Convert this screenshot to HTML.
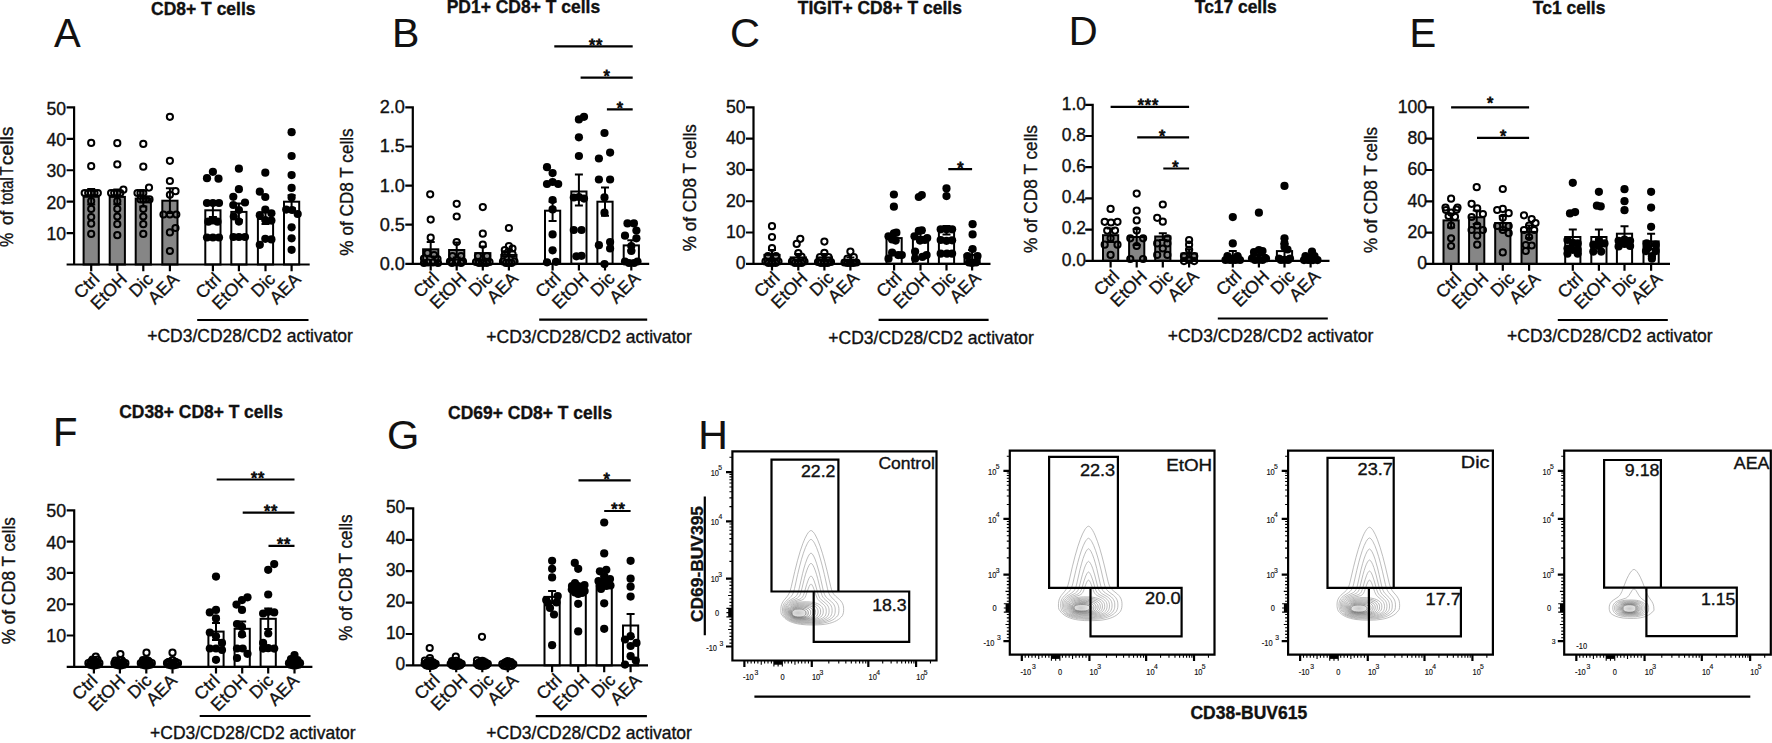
<!DOCTYPE html>
<html><head><meta charset="utf-8"><title>Figure</title>
<style>
html,body{margin:0;padding:0;background:#fff;}
body{width:1772px;height:743px;overflow:hidden;}
svg{display:block;}
text{font-family:"Liberation Sans",Arial,Helvetica,sans-serif;font-size:17.5px;fill:#111;stroke:#111;stroke-width:0.35px;}
text.st{stroke-width:0.95px;letter-spacing:0.8px;}
text.L{stroke-width:0.1px;}
text.s{font-size:7.4px;stroke-width:0.15px;}
circle{fill:#000;}
circle.o{fill:none;stroke:#000;stroke-width:2;}
</style></head><body>
<svg width="1772" height="743" viewBox="0 0 1772 743">
<defs><radialGradient id="cg"><stop offset="0" stop-color="#c8c8c8"/><stop offset="0.5" stop-color="#c8c8c8" stop-opacity="0.6"/><stop offset="1" stop-color="#d0d0d0" stop-opacity="0"/></radialGradient></defs>
<rect width="1772" height="743" fill="#fff"/>
<text transform="translate(151.08,14.67) scale(1,1.005)" style="font-size:17.5px" font-weight="bold" textLength="104.45" lengthAdjust="spacingAndGlyphs">CD8+ T cells</text>
<text transform="translate(54.1,46.6)" style="font-size:40px" class="L">A</text>
<text transform="translate(13.3,246.9) rotate(-90)" style="font-size:18px" textLength="14.3" lengthAdjust="spacingAndGlyphs">%</text>
<text transform="translate(13.3,225) rotate(-90)" style="font-size:18px" textLength="14.4" lengthAdjust="spacingAndGlyphs">of</text>
<text transform="translate(13.3,204.8) rotate(-90)" style="font-size:18px" textLength="27.5" lengthAdjust="spacingAndGlyphs">total</text>
<text transform="translate(13.3,175.5) rotate(-90)" style="font-size:18px" textLength="9.2" lengthAdjust="spacingAndGlyphs">T</text>
<text transform="translate(13.3,165.3) rotate(-90)" style="font-size:18px" textLength="38.9" lengthAdjust="spacingAndGlyphs">cells</text>
<text transform="translate(66,240.28) scale(1,1.005)" style="font-size:17.6px" text-anchor="end">10</text>
<text transform="translate(66,208.86) scale(1,1.005)" style="font-size:17.6px" text-anchor="end">20</text>
<text transform="translate(66,177.44) scale(1,1.005)" style="font-size:17.6px" text-anchor="end">30</text>
<text transform="translate(66,146.02) scale(1,1.005)" style="font-size:17.6px" text-anchor="end">40</text>
<text transform="translate(66,114.6) scale(1,1.005)" style="font-size:17.6px" text-anchor="end">50</text>
<rect x="83.6" y="196.8" width="15.2" height="67.7" fill="#868686" stroke="#000" stroke-width="2"/>
<rect x="109.7" y="196.9" width="15.2" height="67.6" fill="#868686" stroke="#000" stroke-width="2"/>
<rect x="135.7" y="198.6" width="15.2" height="65.9" fill="#868686" stroke="#000" stroke-width="2"/>
<rect x="162.3" y="200.7" width="15.2" height="63.8" fill="#868686" stroke="#000" stroke-width="2"/>
<rect x="205.3" y="210.3" width="15.2" height="54.2" fill="#ffffff" stroke="#000" stroke-width="2"/>
<rect x="231.3" y="211.9" width="15.2" height="52.6" fill="#ffffff" stroke="#000" stroke-width="2"/>
<rect x="257.9" y="219" width="15.2" height="45.5" fill="#ffffff" stroke="#000" stroke-width="2"/>
<rect x="284" y="201.7" width="15.2" height="62.8" fill="#ffffff" stroke="#000" stroke-width="2"/>
<path d="M91.2 189V204.5M87.2 189H95.2M87.2 204.5H95.2M117.3 189.5V204.3M113.3 189.5H121.3M113.3 204.3H121.3M143.3 190.5V206.5M139.3 190.5H147.3M139.3 206.5H147.3M169.9 188.2V213M165.9 188.2H173.9M165.9 213H173.9M212.9 203.5V217M208.9 203.5H216.9M208.9 217H216.9M238.9 203.5V220M234.9 203.5H242.9M234.9 220H242.9M265.5 212V224M261.5 212H269.5M261.5 224H269.5M291.6 195.3V208M287.6 195.3H295.6M287.6 208H295.6" stroke="#000" stroke-width="2" fill="none"/>
<path d="M66.6 233.08H74.1M66.6 201.66H74.1M66.6 170.24H74.1M66.6 138.82H74.1M66.6 107.4H74.1M74.1 106.3V264.5M66.6 264.5H309.7M91.2 264.5V271.3M117.3 264.5V271.3M143.3 264.5V271.3M169.9 264.5V271.3M212.9 264.5V271.3M238.9 264.5V271.3M265.5 264.5V271.3M291.6 264.5V271.3M197.2 320H308.5" stroke="#000" stroke-width="2.2" fill="none"/>
<circle cx="91.2" cy="142.9" r="3.1" class="o"/>
<circle cx="91.2" cy="166.2" r="3.1" class="o"/>
<circle cx="84.7" cy="193" r="3.1" class="o"/>
<circle cx="88.2" cy="193" r="3.1" class="o"/>
<circle cx="91.2" cy="193" r="3.1" class="o"/>
<circle cx="94.5" cy="193" r="3.1" class="o"/>
<circle cx="97.8" cy="193" r="3.1" class="o"/>
<circle cx="91.2" cy="201.2" r="3.1" class="o"/>
<circle cx="91.2" cy="208.9" r="3.1" class="o"/>
<circle cx="91.2" cy="217" r="3.1" class="o"/>
<circle cx="91.2" cy="223.7" r="3.1" class="o"/>
<circle cx="91.2" cy="233.9" r="3.1" class="o"/>
<circle cx="117.3" cy="143.2" r="3.1" class="o"/>
<circle cx="117.3" cy="164.4" r="3.1" class="o"/>
<circle cx="123.4" cy="189.7" r="3.1" class="o"/>
<circle cx="111.1" cy="193" r="3.1" class="o"/>
<circle cx="114.2" cy="193" r="3.1" class="o"/>
<circle cx="117.3" cy="193" r="3.1" class="o"/>
<circle cx="120.3" cy="193" r="3.1" class="o"/>
<circle cx="117.3" cy="201.2" r="3.1" class="o"/>
<circle cx="117.3" cy="208.9" r="3.1" class="o"/>
<circle cx="117.3" cy="216.5" r="3.1" class="o"/>
<circle cx="117.3" cy="224.2" r="3.1" class="o"/>
<circle cx="117.3" cy="235.2" r="3.1" class="o"/>
<circle cx="143.3" cy="143.9" r="3.1" class="o"/>
<circle cx="143.3" cy="166.7" r="3.1" class="o"/>
<circle cx="149" cy="187.6" r="3.1" class="o"/>
<circle cx="137.5" cy="193" r="3.1" class="o"/>
<circle cx="140.5" cy="193" r="3.1" class="o"/>
<circle cx="143.3" cy="193" r="3.1" class="o"/>
<circle cx="140.5" cy="199.4" r="3.1" class="o"/>
<circle cx="143.3" cy="199.4" r="3.1" class="o"/>
<circle cx="146.1" cy="199.4" r="3.1" class="o"/>
<circle cx="149.5" cy="199.4" r="3.1" class="o"/>
<circle cx="143.3" cy="208.9" r="3.1" class="o"/>
<circle cx="143.3" cy="216.5" r="3.1" class="o"/>
<circle cx="143.3" cy="224.2" r="3.1" class="o"/>
<circle cx="143.3" cy="233.9" r="3.1" class="o"/>
<circle cx="169.9" cy="116.8" r="3.1" class="o"/>
<circle cx="169.9" cy="160.8" r="3.1" class="o"/>
<circle cx="169.9" cy="181" r="3.1" class="o"/>
<circle cx="175.5" cy="191.2" r="3.1" class="o"/>
<circle cx="169.9" cy="194.8" r="3.1" class="o"/>
<circle cx="163.5" cy="214.5" r="3.1" class="o"/>
<circle cx="169.9" cy="214.5" r="3.1" class="o"/>
<circle cx="176.3" cy="214.5" r="3.1" class="o"/>
<circle cx="175.5" cy="228" r="3.1" class="o"/>
<circle cx="169.9" cy="232.4" r="3.1" class="o"/>
<circle cx="169.9" cy="251" r="3.1" class="o"/>
<circle cx="212.9" cy="171.8" r="4.1"/>
<circle cx="207" cy="178.2" r="4.1"/>
<circle cx="218.5" cy="178.7" r="4.1"/>
<circle cx="207" cy="203" r="4.1"/>
<circle cx="212.9" cy="203" r="4.1"/>
<circle cx="219" cy="203" r="4.1"/>
<circle cx="212.9" cy="220.4" r="4.1"/>
<circle cx="208.3" cy="221.7" r="4.1"/>
<circle cx="217.5" cy="221.7" r="4.1"/>
<circle cx="207" cy="237.5" r="4.1"/>
<circle cx="212.9" cy="237.5" r="4.1"/>
<circle cx="219" cy="237.5" r="4.1"/>
<circle cx="238.9" cy="168.7" r="4.1"/>
<circle cx="238.9" cy="189.2" r="4.1"/>
<circle cx="233.3" cy="196.8" r="4.1"/>
<circle cx="233.3" cy="205" r="4.1"/>
<circle cx="245" cy="202.5" r="4.1"/>
<circle cx="238.9" cy="210" r="4.1"/>
<circle cx="233.8" cy="216.5" r="4.1"/>
<circle cx="238.9" cy="221.6" r="4.1"/>
<circle cx="233.4" cy="237" r="4.1"/>
<circle cx="238.9" cy="237" r="4.1"/>
<circle cx="245" cy="237" r="4.1"/>
<circle cx="265.3" cy="172.7" r="4.1"/>
<circle cx="259.8" cy="191.7" r="4.1"/>
<circle cx="265.3" cy="197" r="4.1"/>
<circle cx="265.3" cy="209.7" r="4.1"/>
<circle cx="259.8" cy="215.2" r="4.1"/>
<circle cx="271.4" cy="213.3" r="4.1"/>
<circle cx="265.3" cy="220" r="4.1"/>
<circle cx="271.4" cy="220.6" r="4.1"/>
<circle cx="265.3" cy="238.8" r="4.1"/>
<circle cx="271.4" cy="239.4" r="4.1"/>
<circle cx="259.8" cy="244.8" r="4.1"/>
<circle cx="291.6" cy="132.2" r="4.1"/>
<circle cx="291.6" cy="156" r="4.1"/>
<circle cx="291.6" cy="175.1" r="4.1"/>
<circle cx="291.6" cy="187.9" r="4.1"/>
<circle cx="291.6" cy="197.4" r="4.1"/>
<circle cx="286.2" cy="209.6" r="4.1"/>
<circle cx="292.1" cy="210" r="4.1"/>
<circle cx="297.7" cy="214" r="4.1"/>
<circle cx="291.6" cy="227.3" r="4.1"/>
<circle cx="291.6" cy="238.3" r="4.1"/>
<circle cx="291.6" cy="249.8" r="4.1"/>
<text transform="translate(100.4,280.3) scale(1,1.005) rotate(-45)" style="font-size:17.6px" text-anchor="end">Ctrl</text>
<text transform="translate(128.1,280.3) scale(1,1.005) rotate(-45)" style="font-size:17.6px" text-anchor="end">EtOH</text>
<text transform="translate(154.1,280.3) scale(1,1.005) rotate(-45)" style="font-size:17.6px" text-anchor="end">Dic</text>
<text transform="translate(180,280.3) scale(1,1.005) rotate(-45)" style="font-size:17.6px" text-anchor="end">AEA</text>
<text transform="translate(222.1,280.3) scale(1,1.005) rotate(-45)" style="font-size:17.6px" text-anchor="end">Ctrl</text>
<text transform="translate(249.7,280.3) scale(1,1.005) rotate(-45)" style="font-size:17.6px" text-anchor="end">EtOH</text>
<text transform="translate(276.3,280.3) scale(1,1.005) rotate(-45)" style="font-size:17.6px" text-anchor="end">Dic</text>
<text transform="translate(301.7,280.3) scale(1,1.005) rotate(-45)" style="font-size:17.6px" text-anchor="end">AEA</text>
<text transform="translate(147.19,341.6) scale(1,1.005)" style="font-size:17.5px" textLength="205.63" lengthAdjust="spacingAndGlyphs">+CD3/CD28/CD2 activator</text>
<text transform="translate(446.63,13.05) scale(1,1.005)" style="font-size:17.5px" font-weight="bold" textLength="153.51" lengthAdjust="spacingAndGlyphs">PD1+ CD8+ T cells</text>
<text transform="translate(392.1,46.7)" style="font-size:41px" class="L">B</text>
<text transform="translate(352.6,192) rotate(-90)" style="font-size:18.3px" text-anchor="middle" textLength="127.3" lengthAdjust="spacingAndGlyphs">% of CD8 T cells</text>
<text transform="translate(404.98,269.7) scale(1,1.005)" style="font-size:18.2px" text-anchor="end">0.0</text>
<text transform="translate(404.98,230.6) scale(1,1.005)" style="font-size:18.2px" text-anchor="end">0.5</text>
<text transform="translate(404.98,191.5) scale(1,1.005)" style="font-size:18.2px" text-anchor="end">1.0</text>
<text transform="translate(404.98,152.4) scale(1,1.005)" style="font-size:18.2px" text-anchor="end">1.5</text>
<text transform="translate(404.98,113.3) scale(1,1.005)" style="font-size:18.2px" text-anchor="end">2.0</text>
<rect x="423.1" y="249.3" width="15.2" height="14.5" fill="#868686" stroke="#000" stroke-width="2"/>
<rect x="449.1" y="250" width="15.2" height="13.8" fill="#868686" stroke="#000" stroke-width="2"/>
<rect x="475.2" y="253.1" width="15.2" height="10.7" fill="#868686" stroke="#000" stroke-width="2"/>
<rect x="501.3" y="254.9" width="15.2" height="8.9" fill="#868686" stroke="#000" stroke-width="2"/>
<rect x="545" y="210.7" width="15.2" height="53.1" fill="#ffffff" stroke="#000" stroke-width="2"/>
<rect x="571.3" y="191.5" width="15.2" height="72.3" fill="#ffffff" stroke="#000" stroke-width="2"/>
<rect x="597.4" y="201.7" width="15.2" height="62.1" fill="#ffffff" stroke="#000" stroke-width="2"/>
<rect x="623.7" y="245.4" width="15.2" height="18.4" fill="#ffffff" stroke="#000" stroke-width="2"/>
<path d="M430.7 242.1V256.5M426.7 242.1H434.7M426.7 256.5H434.7M456.7 242.5V257.5M452.7 242.5H460.7M452.7 257.5H460.7M482.8 246.5V259.5M478.8 246.5H486.8M478.8 259.5H486.8M508.9 249.5V260M504.9 249.5H512.9M504.9 260H512.9M552.6 201.7V220.9M548.6 201.7H556.6M548.6 220.9H556.6M578.9 174.4V205.5M574.9 174.4H582.9M574.9 205.5H582.9M605 187.6V215.8M601 187.6H609M601 215.8H609M631.3 240.3V250.5M627.3 240.3H635.3M627.3 250.5H635.3" stroke="#000" stroke-width="2" fill="none"/>
<path d="M405.3 263.8H412.8M405.3 224.7H412.8M405.3 185.6H412.8M405.3 146.5H412.8M405.3 107.4H412.8M412.8 106.3V263.8M405.3 263.8H649.2M430.7 263.8V270.6M456.7 263.8V270.6M482.8 263.8V270.6M508.9 263.8V270.6M552.6 263.8V270.6M578.9 263.8V270.6M605 263.8V270.6M631.3 263.8V270.6M539.2 319.6H647.2M554.3 46.4H632.7M580.6 77.6H632.7M606.9 109.3H632.7" stroke="#000" stroke-width="2.2" fill="none"/>
<circle cx="430.2" cy="194.3" r="3.1" class="o"/>
<circle cx="430.7" cy="219.6" r="3.1" class="o"/>
<circle cx="430.7" cy="237.7" r="3.1" class="o"/>
<circle cx="427.5" cy="253" r="3.1" class="o"/>
<circle cx="434" cy="255" r="3.1" class="o"/>
<circle cx="424" cy="258.5" r="3.1" class="o"/>
<circle cx="437.5" cy="259" r="3.1" class="o"/>
<circle cx="428" cy="262.5" r="3.1" class="o"/>
<circle cx="433" cy="262.5" r="3.1" class="o"/>
<circle cx="424" cy="263" r="3.1" class="o"/>
<circle cx="438" cy="263" r="3.1" class="o"/>
<circle cx="456.7" cy="203.8" r="3.1" class="o"/>
<circle cx="456.7" cy="216.5" r="3.1" class="o"/>
<circle cx="456.7" cy="242.1" r="3.1" class="o"/>
<circle cx="452.5" cy="256" r="3.1" class="o"/>
<circle cx="461" cy="256" r="3.1" class="o"/>
<circle cx="450" cy="261.5" r="3.1" class="o"/>
<circle cx="463" cy="261.5" r="3.1" class="o"/>
<circle cx="456.7" cy="262.5" r="3.1" class="o"/>
<circle cx="452" cy="263" r="3.1" class="o"/>
<circle cx="461" cy="263" r="3.1" class="o"/>
<circle cx="482.8" cy="207.1" r="3.1" class="o"/>
<circle cx="482.8" cy="233.7" r="3.1" class="o"/>
<circle cx="482.8" cy="244.7" r="3.1" class="o"/>
<circle cx="478" cy="256" r="3.1" class="o"/>
<circle cx="487" cy="256" r="3.1" class="o"/>
<circle cx="476" cy="262" r="3.1" class="o"/>
<circle cx="489.5" cy="262" r="3.1" class="o"/>
<circle cx="482.8" cy="263" r="3.1" class="o"/>
<circle cx="479" cy="263" r="3.1" class="o"/>
<circle cx="486.5" cy="263" r="3.1" class="o"/>
<circle cx="508.9" cy="228" r="3.1" class="o"/>
<circle cx="508.9" cy="246" r="3.1" class="o"/>
<circle cx="504.8" cy="250" r="3.1" class="o"/>
<circle cx="512.5" cy="248.5" r="3.1" class="o"/>
<circle cx="505" cy="254" r="3.1" class="o"/>
<circle cx="512.5" cy="254" r="3.1" class="o"/>
<circle cx="503" cy="261.5" r="3.1" class="o"/>
<circle cx="514.5" cy="261.5" r="3.1" class="o"/>
<circle cx="508.9" cy="262.5" r="3.1" class="o"/>
<circle cx="506" cy="263" r="3.1" class="o"/>
<circle cx="511.5" cy="263" r="3.1" class="o"/>
<circle cx="547" cy="167.2" r="4.1"/>
<circle cx="552.6" cy="173.1" r="4.1"/>
<circle cx="547" cy="184" r="4.1"/>
<circle cx="552.6" cy="182" r="4.1"/>
<circle cx="558.2" cy="184" r="4.1"/>
<circle cx="552.6" cy="200" r="4.1"/>
<circle cx="552.6" cy="209.4" r="4.1"/>
<circle cx="552.6" cy="234.4" r="4.1"/>
<circle cx="552.6" cy="250.3" r="4.1"/>
<circle cx="547" cy="262.3" r="4.1"/>
<circle cx="556" cy="261.8" r="4.1"/>
<circle cx="578.9" cy="119.4" r="4.1"/>
<circle cx="584" cy="116.8" r="4.1"/>
<circle cx="578.9" cy="137.3" r="4.1"/>
<circle cx="578.9" cy="156" r="4.1"/>
<circle cx="573.8" cy="197.5" r="4.1"/>
<circle cx="578.9" cy="197" r="4.1"/>
<circle cx="584" cy="198.6" r="4.1"/>
<circle cx="573.8" cy="230" r="4.1"/>
<circle cx="581.5" cy="230" r="4.1"/>
<circle cx="576.4" cy="256.3" r="4.1"/>
<circle cx="581.5" cy="255.8" r="4.1"/>
<circle cx="604.5" cy="133" r="4.1"/>
<circle cx="610.1" cy="152.6" r="4.1"/>
<circle cx="598.9" cy="158.5" r="4.1"/>
<circle cx="598.9" cy="179.5" r="4.1"/>
<circle cx="610.1" cy="179.5" r="4.1"/>
<circle cx="604.5" cy="197.4" r="4.1"/>
<circle cx="604.5" cy="212.7" r="4.1"/>
<circle cx="598.9" cy="245.2" r="4.1"/>
<circle cx="610.1" cy="242" r="4.1"/>
<circle cx="610.1" cy="248.5" r="4.1"/>
<circle cx="604.5" cy="264.1" r="4.1"/>
<circle cx="627.5" cy="223.4" r="4.1"/>
<circle cx="633.9" cy="223.4" r="4.1"/>
<circle cx="636.4" cy="230.6" r="4.1"/>
<circle cx="625" cy="235.7" r="4.1"/>
<circle cx="636.4" cy="238.3" r="4.1"/>
<circle cx="631.3" cy="246" r="4.1"/>
<circle cx="631.3" cy="251" r="4.1"/>
<circle cx="625" cy="261.5" r="4.1"/>
<circle cx="637.5" cy="261.5" r="4.1"/>
<circle cx="629" cy="263" r="4.1"/>
<circle cx="634" cy="263" r="4.1"/>
<text transform="translate(439.9,279.4) scale(1,1.005) rotate(-45)" style="font-size:17.6px" text-anchor="end">Ctrl</text>
<text transform="translate(467.5,279.4) scale(1,1.005) rotate(-45)" style="font-size:17.6px" text-anchor="end">EtOH</text>
<text transform="translate(493.6,279.4) scale(1,1.005) rotate(-45)" style="font-size:17.6px" text-anchor="end">Dic</text>
<text transform="translate(519,279.4) scale(1,1.005) rotate(-45)" style="font-size:17.6px" text-anchor="end">AEA</text>
<text transform="translate(561.8,279.4) scale(1,1.005) rotate(-45)" style="font-size:17.6px" text-anchor="end">Ctrl</text>
<text transform="translate(589.7,279.4) scale(1,1.005) rotate(-45)" style="font-size:17.6px" text-anchor="end">EtOH</text>
<text transform="translate(615.8,279.4) scale(1,1.005) rotate(-45)" style="font-size:17.6px" text-anchor="end">Dic</text>
<text transform="translate(641.4,279.4) scale(1,1.005) rotate(-45)" style="font-size:17.6px" text-anchor="end">AEA</text>
<text transform="translate(486.34,343.1) scale(1,1.005)" style="font-size:17.5px" textLength="205.58" lengthAdjust="spacingAndGlyphs">+CD3/CD28/CD2 activator</text>
<text transform="translate(596,50.7)" style="font-size:16.2px" text-anchor="middle" class="st">**</text>
<text transform="translate(607.15,81.9)" style="font-size:16.2px" text-anchor="middle" class="st">*</text>
<text transform="translate(620.3,113.6)" style="font-size:16.2px" text-anchor="middle" class="st">*</text>
<text transform="translate(797.81,13.5) scale(1,1.005)" style="font-size:17.5px" font-weight="bold" textLength="164.03" lengthAdjust="spacingAndGlyphs">TIGIT+ CD8+ T cells</text>
<text transform="translate(730,46.8)" style="font-size:41.5px" class="L">C</text>
<text transform="translate(696.3,187.7) rotate(-90)" style="font-size:18.3px" text-anchor="middle" textLength="127" lengthAdjust="spacingAndGlyphs">% of CD8 T cells</text>
<text transform="translate(745.61,269.3) scale(1,1.005)" style="font-size:17.7px" text-anchor="end">0</text>
<text transform="translate(745.61,238.02) scale(1,1.005)" style="font-size:17.7px" text-anchor="end">10</text>
<text transform="translate(745.61,206.74) scale(1,1.005)" style="font-size:17.7px" text-anchor="end">20</text>
<text transform="translate(745.61,175.46) scale(1,1.005)" style="font-size:17.7px" text-anchor="end">30</text>
<text transform="translate(745.61,144.18) scale(1,1.005)" style="font-size:17.7px" text-anchor="end">40</text>
<text transform="translate(745.61,112.9) scale(1,1.005)" style="font-size:17.7px" text-anchor="end">50</text>
<rect x="764.4" y="254.9" width="15.2" height="8.9" fill="#868686" stroke="#000" stroke-width="2"/>
<rect x="790.7" y="257.4" width="15.2" height="6.4" fill="#868686" stroke="#000" stroke-width="2"/>
<rect x="816.8" y="257.4" width="15.2" height="6.4" fill="#868686" stroke="#000" stroke-width="2"/>
<rect x="842.8" y="260" width="15.2" height="3.8" fill="#868686" stroke="#000" stroke-width="2"/>
<rect x="886.5" y="238.1" width="15.2" height="25.7" fill="#ffffff" stroke="#000" stroke-width="2"/>
<rect x="912.9" y="236.9" width="15.2" height="26.9" fill="#ffffff" stroke="#000" stroke-width="2"/>
<rect x="938.9" y="230.1" width="15.2" height="33.7" fill="#ffffff" stroke="#000" stroke-width="2"/>
<rect x="964.5" y="254.9" width="15.2" height="8.9" fill="#ffffff" stroke="#000" stroke-width="2"/>
<path d="M772 250V259.5M768 250H776M768 259.5H776M798.3 254V260.5M794.3 254H802.3M794.3 260.5H802.3M824.4 254V260.5M820.4 254H828.4M820.4 260.5H828.4M850.4 257.5V262M846.4 257.5H854.4M846.4 262H854.4M894.1 234V242M890.1 234H898.1M890.1 242H898.1M920.5 233V241M916.5 233H924.5M916.5 241H924.5M946.5 226V234.5M942.5 226H950.5M942.5 234.5H950.5M972.1 250V259.5M968.1 250H976.1M968.1 259.5H976.1" stroke="#000" stroke-width="2" fill="none"/>
<path d="M746 263.8H753.5M746 232.52H753.5M746 201.24H753.5M746 169.96H753.5M746 138.68H753.5M746 107.4H753.5M753.5 106.3V263.8M746 263.8H990.5M772 263.8V270.6M798.3 263.8V270.6M824.4 263.8V270.6M850.4 263.8V270.6M894.1 263.8V270.6M920.5 263.8V270.6M946.5 263.8V270.6M972.1 263.8V270.6M878.6 319.8H988.6M948.3 169.2H972.1" stroke="#000" stroke-width="2.2" fill="none"/>
<circle cx="772" cy="226.2" r="3.1" class="o"/>
<circle cx="772" cy="237" r="3.1" class="o"/>
<circle cx="772" cy="248" r="3.1" class="o"/>
<circle cx="768" cy="256" r="3.1" class="o"/>
<circle cx="776" cy="256" r="3.1" class="o"/>
<circle cx="765.5" cy="261.5" r="3.1" class="o"/>
<circle cx="778.5" cy="261.5" r="3.1" class="o"/>
<circle cx="772" cy="263" r="3.1" class="o"/>
<circle cx="768.5" cy="263" r="3.1" class="o"/>
<circle cx="775.5" cy="263" r="3.1" class="o"/>
<circle cx="800.3" cy="238.8" r="3.1" class="o"/>
<circle cx="796.7" cy="243.9" r="3.1" class="o"/>
<circle cx="798.3" cy="253" r="3.1" class="o"/>
<circle cx="801.5" cy="256.5" r="3.1" class="o"/>
<circle cx="792" cy="261.5" r="3.1" class="o"/>
<circle cx="804.5" cy="261.5" r="3.1" class="o"/>
<circle cx="798.3" cy="263" r="3.1" class="o"/>
<circle cx="795" cy="263" r="3.1" class="o"/>
<circle cx="801.5" cy="263" r="3.1" class="o"/>
<circle cx="824.4" cy="241.6" r="3.1" class="o"/>
<circle cx="824.4" cy="252.8" r="3.1" class="o"/>
<circle cx="820" cy="257" r="3.1" class="o"/>
<circle cx="828.5" cy="257" r="3.1" class="o"/>
<circle cx="818" cy="262" r="3.1" class="o"/>
<circle cx="831" cy="262" r="3.1" class="o"/>
<circle cx="824.4" cy="263" r="3.1" class="o"/>
<circle cx="821" cy="263" r="3.1" class="o"/>
<circle cx="827.5" cy="263" r="3.1" class="o"/>
<circle cx="850.4" cy="251.6" r="3.1" class="o"/>
<circle cx="847.5" cy="258.5" r="3.1" class="o"/>
<circle cx="853.8" cy="257.2" r="3.1" class="o"/>
<circle cx="844.5" cy="262.5" r="3.1" class="o"/>
<circle cx="856.5" cy="262.5" r="3.1" class="o"/>
<circle cx="850.4" cy="263" r="3.1" class="o"/>
<circle cx="847.5" cy="263" r="3.1" class="o"/>
<circle cx="853.3" cy="263" r="3.1" class="o"/>
<circle cx="893.9" cy="194.5" r="4.1"/>
<circle cx="893.9" cy="206.7" r="4.1"/>
<circle cx="888.5" cy="236.3" r="4.1"/>
<circle cx="893.9" cy="233.3" r="4.1"/>
<circle cx="896.4" cy="232.7" r="4.1"/>
<circle cx="892.1" cy="239.4" r="4.1"/>
<circle cx="895.7" cy="240.6" r="4.1"/>
<circle cx="892.1" cy="252.7" r="4.1"/>
<circle cx="898.2" cy="255.1" r="4.1"/>
<circle cx="901.8" cy="255.1" r="4.1"/>
<circle cx="888.5" cy="258.7" r="4.1"/>
<circle cx="918.8" cy="197" r="4.1"/>
<circle cx="921.8" cy="195.1" r="4.1"/>
<circle cx="914.5" cy="236.3" r="4.1"/>
<circle cx="918.8" cy="230.9" r="4.1"/>
<circle cx="921.8" cy="230.3" r="4.1"/>
<circle cx="927.2" cy="238.1" r="4.1"/>
<circle cx="920" cy="240.6" r="4.1"/>
<circle cx="924.8" cy="240" r="4.1"/>
<circle cx="915.1" cy="251.5" r="4.1"/>
<circle cx="922.4" cy="256.9" r="4.1"/>
<circle cx="926.6" cy="255.1" r="4.1"/>
<circle cx="915.1" cy="258.7" r="4.1"/>
<circle cx="946.5" cy="188.4" r="4.1"/>
<circle cx="946.5" cy="196.1" r="4.1"/>
<circle cx="940.7" cy="229.3" r="4.1"/>
<circle cx="946.5" cy="229.3" r="4.1"/>
<circle cx="952.1" cy="229.3" r="4.1"/>
<circle cx="940.7" cy="240" r="4.1"/>
<circle cx="946.5" cy="240.8" r="4.1"/>
<circle cx="952.1" cy="240.3" r="4.1"/>
<circle cx="940.7" cy="253.6" r="4.1"/>
<circle cx="947" cy="253.6" r="4.1"/>
<circle cx="952.1" cy="253.6" r="4.1"/>
<circle cx="972.6" cy="224.2" r="4.1"/>
<circle cx="972.6" cy="234.4" r="4.1"/>
<circle cx="972.6" cy="249" r="4.1"/>
<circle cx="967.5" cy="256" r="4.1"/>
<circle cx="977.5" cy="256" r="4.1"/>
<circle cx="969" cy="262.5" r="4.1"/>
<circle cx="976" cy="262.5" r="4.1"/>
<circle cx="972.1" cy="263" r="4.1"/>
<text transform="translate(780.7,279.1) scale(1,1.005) rotate(-45)" style="font-size:17.6px" text-anchor="end">Ctrl</text>
<text transform="translate(808.6,279.1) scale(1,1.005) rotate(-45)" style="font-size:17.6px" text-anchor="end">EtOH</text>
<text transform="translate(834.7,279.1) scale(1,1.005) rotate(-45)" style="font-size:17.6px" text-anchor="end">Dic</text>
<text transform="translate(860,279.1) scale(1,1.005) rotate(-45)" style="font-size:17.6px" text-anchor="end">AEA</text>
<text transform="translate(902.8,279.1) scale(1,1.005) rotate(-45)" style="font-size:17.6px" text-anchor="end">Ctrl</text>
<text transform="translate(930.8,279.1) scale(1,1.005) rotate(-45)" style="font-size:17.6px" text-anchor="end">EtOH</text>
<text transform="translate(956.8,279.1) scale(1,1.005) rotate(-45)" style="font-size:17.6px" text-anchor="end">Dic</text>
<text transform="translate(981.7,279.1) scale(1,1.005) rotate(-45)" style="font-size:17.6px" text-anchor="end">AEA</text>
<text transform="translate(828.34,343.8) scale(1,1.005)" style="font-size:17.5px" textLength="205.58" lengthAdjust="spacingAndGlyphs">+CD3/CD28/CD2 activator</text>
<text transform="translate(960.7,173.5)" style="font-size:16.2px" text-anchor="middle" class="st">*</text>
<text transform="translate(1194.81,12.65) scale(1,1.005)" style="font-size:17.5px" font-weight="bold" textLength="81.92" lengthAdjust="spacingAndGlyphs">Tc17 cells</text>
<text transform="translate(1068.7,44.8)" style="font-size:40px" class="L">D</text>
<text transform="translate(1036.9,189) rotate(-90)" style="font-size:18.3px" text-anchor="middle" textLength="128" lengthAdjust="spacingAndGlyphs">% of CD8 T cells</text>
<text transform="translate(1086,265.65) scale(1,1.005)" style="font-size:17.4px" text-anchor="end">0.0</text>
<text transform="translate(1086,234.45) scale(1,1.005)" style="font-size:17.4px" text-anchor="end">0.2</text>
<text transform="translate(1086,203.25) scale(1,1.005)" style="font-size:17.4px" text-anchor="end">0.4</text>
<text transform="translate(1086,172.05) scale(1,1.005)" style="font-size:17.4px" text-anchor="end">0.6</text>
<text transform="translate(1086,140.85) scale(1,1.005)" style="font-size:17.4px" text-anchor="end">0.8</text>
<text transform="translate(1086,109.65) scale(1,1.005)" style="font-size:17.4px" text-anchor="end">1.0</text>
<rect x="1103" y="235.2" width="15.2" height="25.6" fill="#868686" stroke="#000" stroke-width="2"/>
<rect x="1129.1" y="237" width="15.2" height="23.8" fill="#868686" stroke="#000" stroke-width="2"/>
<rect x="1155.2" y="236.5" width="15.2" height="24.3" fill="#868686" stroke="#000" stroke-width="2"/>
<rect x="1181.5" y="253.6" width="15.2" height="7.2" fill="#868686" stroke="#000" stroke-width="2"/>
<rect x="1225.2" y="255.7" width="15.2" height="5.1" fill="#ffffff" stroke="#000" stroke-width="2"/>
<rect x="1251.3" y="255" width="15.2" height="5.8" fill="#ffffff" stroke="#000" stroke-width="2"/>
<rect x="1276.9" y="251.1" width="15.2" height="9.7" fill="#ffffff" stroke="#000" stroke-width="2"/>
<rect x="1303" y="257.5" width="15.2" height="3.3" fill="#ffffff" stroke="#000" stroke-width="2"/>
<path d="M1110.6 228.5V242M1106.6 228.5H1114.6M1106.6 242H1114.6M1136.7 229V245M1132.7 229H1140.7M1132.7 245H1140.7M1162.8 233.3V240M1158.8 233.3H1166.8M1158.8 240H1166.8M1189.1 249.5V257.5M1185.1 249.5H1193.1M1185.1 257.5H1193.1M1232.8 251.1V260.3M1228.8 251.1H1236.8M1228.8 260.3H1236.8M1258.9 250.5V259.5M1254.9 250.5H1262.9M1254.9 259.5H1262.9M1284.5 244V258M1280.5 244H1288.5M1280.5 258H1288.5M1310.6 255V259.5M1306.6 255H1314.6M1306.6 259.5H1314.6" stroke="#000" stroke-width="2" fill="none"/>
<path d="M1085.2 260.8H1092.7M1085.2 229.6H1092.7M1085.2 198.4H1092.7M1085.2 167.2H1092.7M1085.2 136H1092.7M1085.2 104.8H1092.7M1092.7 103.7V260.8M1085.2 260.8H1329.5M1110.6 260.8V267.6M1136.7 260.8V267.6M1162.8 260.8V267.6M1189.1 260.8V267.6M1232.8 260.8V267.6M1258.9 260.8V267.6M1284.5 260.8V267.6M1310.6 260.8V267.6M1217.8 318.5H1327.8M1110.6 106.9H1189.1M1137.2 137.3H1189.1M1163.3 168.5H1189.1" stroke="#000" stroke-width="2.2" fill="none"/>
<circle cx="1110.6" cy="208.9" r="3.1" class="o"/>
<circle cx="1104.7" cy="221.8" r="3.1" class="o"/>
<circle cx="1111" cy="222.5" r="3.1" class="o"/>
<circle cx="1117.5" cy="221.8" r="3.1" class="o"/>
<circle cx="1107.2" cy="230.6" r="3.1" class="o"/>
<circle cx="1115" cy="230.6" r="3.1" class="o"/>
<circle cx="1110.6" cy="238.3" r="3.1" class="o"/>
<circle cx="1104.7" cy="244.7" r="3.1" class="o"/>
<circle cx="1117.5" cy="244.7" r="3.1" class="o"/>
<circle cx="1110.6" cy="254.9" r="3.1" class="o"/>
<circle cx="1136.7" cy="193.6" r="3.1" class="o"/>
<circle cx="1136.7" cy="210.7" r="3.1" class="o"/>
<circle cx="1136.7" cy="220.4" r="3.1" class="o"/>
<circle cx="1136.7" cy="230.6" r="3.1" class="o"/>
<circle cx="1130.3" cy="238.3" r="3.1" class="o"/>
<circle cx="1143.1" cy="238.3" r="3.1" class="o"/>
<circle cx="1136.7" cy="246" r="3.1" class="o"/>
<circle cx="1130.3" cy="259" r="3.1" class="o"/>
<circle cx="1143.1" cy="259" r="3.1" class="o"/>
<circle cx="1162.8" cy="204.5" r="3.1" class="o"/>
<circle cx="1157.2" cy="217.8" r="3.1" class="o"/>
<circle cx="1162.8" cy="221.7" r="3.1" class="o"/>
<circle cx="1167.4" cy="238.3" r="3.1" class="o"/>
<circle cx="1157.2" cy="243.4" r="3.1" class="o"/>
<circle cx="1167.4" cy="243.4" r="3.1" class="o"/>
<circle cx="1162.8" cy="248.5" r="3.1" class="o"/>
<circle cx="1157.2" cy="254.9" r="3.1" class="o"/>
<circle cx="1167.4" cy="254.9" r="3.1" class="o"/>
<circle cx="1189.1" cy="240.1" r="3.1" class="o"/>
<circle cx="1189.1" cy="244.7" r="3.1" class="o"/>
<circle cx="1189.1" cy="249.8" r="3.1" class="o"/>
<circle cx="1184" cy="256.2" r="3.1" class="o"/>
<circle cx="1194.2" cy="256.2" r="3.1" class="o"/>
<circle cx="1184" cy="261.1" r="3.1" class="o"/>
<circle cx="1194.2" cy="261.1" r="3.1" class="o"/>
<circle cx="1189.1" cy="260" r="3.1" class="o"/>
<circle cx="1232.8" cy="217.1" r="4.1"/>
<circle cx="1232.8" cy="243.4" r="4.1"/>
<circle cx="1227.5" cy="256" r="4.1"/>
<circle cx="1237.5" cy="256" r="4.1"/>
<circle cx="1230" cy="260" r="4.1"/>
<circle cx="1235.5" cy="260" r="4.1"/>
<circle cx="1225.5" cy="260" r="4.1"/>
<circle cx="1240" cy="260" r="4.1"/>
<circle cx="1232.8" cy="259.8" r="4.1"/>
<circle cx="1258.9" cy="212.7" r="4.1"/>
<circle cx="1258.9" cy="250" r="4.1"/>
<circle cx="1254" cy="252" r="4.1"/>
<circle cx="1262.5" cy="251" r="4.1"/>
<circle cx="1252" cy="258.5" r="4.1"/>
<circle cx="1266" cy="258.5" r="4.1"/>
<circle cx="1258.9" cy="259.8" r="4.1"/>
<circle cx="1255" cy="260" r="4.1"/>
<circle cx="1262.5" cy="260" r="4.1"/>
<circle cx="1284.5" cy="185.9" r="4.1"/>
<circle cx="1284.5" cy="238.3" r="4.1"/>
<circle cx="1284.5" cy="243.4" r="4.1"/>
<circle cx="1284.5" cy="247" r="4.1"/>
<circle cx="1287.5" cy="249.5" r="4.1"/>
<circle cx="1279" cy="258.5" r="4.1"/>
<circle cx="1290" cy="258.5" r="4.1"/>
<circle cx="1284.5" cy="259.8" r="4.1"/>
<circle cx="1281" cy="260" r="4.1"/>
<circle cx="1288" cy="260" r="4.1"/>
<circle cx="1312" cy="251.6" r="4.1"/>
<circle cx="1305.5" cy="256" r="4.1"/>
<circle cx="1314.5" cy="256" r="4.1"/>
<circle cx="1308" cy="260" r="4.1"/>
<circle cx="1304" cy="260.1" r="4.1"/>
<circle cx="1313" cy="260.1" r="4.1"/>
<circle cx="1317.5" cy="260.1" r="4.1"/>
<circle cx="1310.6" cy="260" r="4.1"/>
<text transform="translate(1120.3,277.4) scale(1,1.005) rotate(-45)" style="font-size:17.6px" text-anchor="end">Ctrl</text>
<text transform="translate(1148,277.4) scale(1,1.005) rotate(-45)" style="font-size:17.6px" text-anchor="end">EtOH</text>
<text transform="translate(1174.1,277.4) scale(1,1.005) rotate(-45)" style="font-size:17.6px" text-anchor="end">Dic</text>
<text transform="translate(1199.7,277.4) scale(1,1.005) rotate(-45)" style="font-size:17.6px" text-anchor="end">AEA</text>
<text transform="translate(1242.5,277.4) scale(1,1.005) rotate(-45)" style="font-size:17.6px" text-anchor="end">Ctrl</text>
<text transform="translate(1270.2,277.4) scale(1,1.005) rotate(-45)" style="font-size:17.6px" text-anchor="end">EtOH</text>
<text transform="translate(1295.8,277.4) scale(1,1.005) rotate(-45)" style="font-size:17.6px" text-anchor="end">Dic</text>
<text transform="translate(1321.2,277.4) scale(1,1.005) rotate(-45)" style="font-size:17.6px" text-anchor="end">AEA</text>
<text transform="translate(1167.74,341.5) scale(1,1.005)" style="font-size:17.5px" textLength="205.58" lengthAdjust="spacingAndGlyphs">+CD3/CD28/CD2 activator</text>
<text transform="translate(1148.35,111.2)" style="font-size:16.2px" text-anchor="middle" class="st">***</text>
<text transform="translate(1162.65,141.6)" style="font-size:16.2px" text-anchor="middle" class="st">*</text>
<text transform="translate(1175.7,172.8)" style="font-size:16.2px" text-anchor="middle" class="st">*</text>
<text transform="translate(1532.81,14) scale(1,1.005)" style="font-size:17.5px" font-weight="bold" textLength="72.63" lengthAdjust="spacingAndGlyphs">Tc1 cells</text>
<text transform="translate(1409.6,46.7)" style="font-size:40px" class="L">E</text>
<text transform="translate(1376.9,190) rotate(-90)" style="font-size:18.3px" text-anchor="middle" textLength="126" lengthAdjust="spacingAndGlyphs">% of CD8 T cells</text>
<text transform="translate(1427,269.3) scale(1,1.005)" style="font-size:17.6px" text-anchor="end">0</text>
<text transform="translate(1427,238) scale(1,1.005)" style="font-size:17.6px" text-anchor="end">20</text>
<text transform="translate(1427,206.7) scale(1,1.005)" style="font-size:17.6px" text-anchor="end">40</text>
<text transform="translate(1427,175.4) scale(1,1.005)" style="font-size:17.6px" text-anchor="end">60</text>
<text transform="translate(1427,144.1) scale(1,1.005)" style="font-size:17.6px" text-anchor="end">80</text>
<text transform="translate(1427,112.8) scale(1,1.005)" style="font-size:17.6px" text-anchor="end">100</text>
<rect x="1443.5" y="220.4" width="15.2" height="43.5" fill="#868686" stroke="#000" stroke-width="2"/>
<rect x="1469.1" y="217.3" width="15.2" height="46.6" fill="#868686" stroke="#000" stroke-width="2"/>
<rect x="1495.2" y="223" width="15.2" height="40.9" fill="#868686" stroke="#000" stroke-width="2"/>
<rect x="1521.5" y="231.9" width="15.2" height="32" fill="#868686" stroke="#000" stroke-width="2"/>
<rect x="1565.2" y="237" width="15.2" height="26.9" fill="#ffffff" stroke="#000" stroke-width="2"/>
<rect x="1591.3" y="237" width="15.2" height="26.9" fill="#ffffff" stroke="#000" stroke-width="2"/>
<rect x="1616.9" y="233.7" width="15.2" height="30.2" fill="#ffffff" stroke="#000" stroke-width="2"/>
<rect x="1643.5" y="241.4" width="15.2" height="22.5" fill="#ffffff" stroke="#000" stroke-width="2"/>
<path d="M1451.1 213.5V227.5M1447.1 213.5H1455.1M1447.1 227.5H1455.1M1476.7 210.5V224M1472.7 210.5H1480.7M1472.7 224H1480.7M1502.8 216V230M1498.8 216H1506.8M1498.8 230H1506.8M1529.1 225.5V238M1525.1 225.5H1533.1M1525.1 238H1533.1M1572.8 229.4V244.5M1568.8 229.4H1576.8M1568.8 244.5H1576.8M1598.9 229.4V244.5M1594.9 229.4H1602.9M1594.9 244.5H1602.9M1624.5 226.3V241M1620.5 226.3H1628.5M1620.5 241H1628.5M1651.1 233.7V249M1647.1 233.7H1655.1M1647.1 249H1655.1" stroke="#000" stroke-width="2" fill="none"/>
<path d="M1425.7 263.9H1433.2M1425.7 232.6H1433.2M1425.7 201.3H1433.2M1425.7 170H1433.2M1425.7 138.7H1433.2M1425.7 107.4H1433.2M1433.2 106.3V263.9M1425.7 263.9H1670M1451.1 263.9V270.7M1476.7 263.9V270.7M1502.8 263.9V270.7M1529.1 263.9V270.7M1572.8 263.9V270.7M1598.9 263.9V270.7M1624.5 263.9V270.7M1651.1 263.9V270.7M1557.8 320H1667.8M1451.1 107.4H1529.1M1477 137.8H1529.1" stroke="#000" stroke-width="2.2" fill="none"/>
<circle cx="1451.1" cy="198.7" r="3.1" class="o"/>
<circle cx="1446" cy="210" r="3.1" class="o"/>
<circle cx="1451.1" cy="212.7" r="3.1" class="o"/>
<circle cx="1456.5" cy="209.7" r="3.1" class="o"/>
<circle cx="1448.6" cy="216" r="3.1" class="o"/>
<circle cx="1455" cy="216.8" r="3.1" class="o"/>
<circle cx="1451.1" cy="225.5" r="3.1" class="o"/>
<circle cx="1451.1" cy="238.3" r="3.1" class="o"/>
<circle cx="1451.1" cy="246" r="3.1" class="o"/>
<circle cx="1445.5" cy="207.5" r="3.1" class="o"/>
<circle cx="1457.5" cy="207.5" r="3.1" class="o"/>
<circle cx="1476.7" cy="187.2" r="3.1" class="o"/>
<circle cx="1471.6" cy="203.8" r="3.1" class="o"/>
<circle cx="1477.2" cy="208.4" r="3.1" class="o"/>
<circle cx="1471.6" cy="217" r="3.1" class="o"/>
<circle cx="1482.9" cy="214" r="3.1" class="o"/>
<circle cx="1477.2" cy="225.5" r="3.1" class="o"/>
<circle cx="1471.6" cy="230" r="3.1" class="o"/>
<circle cx="1482.9" cy="230" r="3.1" class="o"/>
<circle cx="1477.2" cy="235.7" r="3.1" class="o"/>
<circle cx="1477.2" cy="244.7" r="3.1" class="o"/>
<circle cx="1502.8" cy="189" r="3.1" class="o"/>
<circle cx="1497.2" cy="210" r="3.1" class="o"/>
<circle cx="1502.8" cy="208.9" r="3.1" class="o"/>
<circle cx="1508.7" cy="213.2" r="3.1" class="o"/>
<circle cx="1502.8" cy="217.8" r="3.1" class="o"/>
<circle cx="1497.2" cy="226" r="3.1" class="o"/>
<circle cx="1508.7" cy="226" r="3.1" class="o"/>
<circle cx="1502.8" cy="230" r="3.1" class="o"/>
<circle cx="1508.7" cy="233.2" r="3.1" class="o"/>
<circle cx="1502.8" cy="252.4" r="3.1" class="o"/>
<circle cx="1524" cy="215.3" r="3.1" class="o"/>
<circle cx="1531.7" cy="219" r="3.1" class="o"/>
<circle cx="1535.5" cy="223" r="3.1" class="o"/>
<circle cx="1529.1" cy="225.5" r="3.1" class="o"/>
<circle cx="1524" cy="230" r="3.1" class="o"/>
<circle cx="1534.2" cy="230" r="3.1" class="o"/>
<circle cx="1529.1" cy="237" r="3.1" class="o"/>
<circle cx="1525.8" cy="245" r="3.1" class="o"/>
<circle cx="1531.7" cy="245.5" r="3.1" class="o"/>
<circle cx="1525.8" cy="251" r="3.1" class="o"/>
<circle cx="1572.8" cy="182.8" r="4.1"/>
<circle cx="1570" cy="213.4" r="4.1"/>
<circle cx="1575.1" cy="212.1" r="4.1"/>
<circle cx="1567.5" cy="240" r="4.1"/>
<circle cx="1572.8" cy="242.8" r="4.1"/>
<circle cx="1577.7" cy="243.4" r="4.1"/>
<circle cx="1567.5" cy="248.5" r="4.1"/>
<circle cx="1572.8" cy="249.8" r="4.1"/>
<circle cx="1577.7" cy="249.8" r="4.1"/>
<circle cx="1567.5" cy="253.6" r="4.1"/>
<circle cx="1577.7" cy="253.6" r="4.1"/>
<circle cx="1598.9" cy="191.8" r="4.1"/>
<circle cx="1596.9" cy="205.7" r="4.1"/>
<circle cx="1600.7" cy="206.4" r="4.1"/>
<circle cx="1593.3" cy="244.7" r="4.1"/>
<circle cx="1598.9" cy="246" r="4.1"/>
<circle cx="1604.5" cy="243.4" r="4.1"/>
<circle cx="1593.3" cy="251.6" r="4.1"/>
<circle cx="1601.2" cy="251.6" r="4.1"/>
<circle cx="1598.9" cy="240" r="4.1"/>
<circle cx="1624.5" cy="189.2" r="4.1"/>
<circle cx="1624.5" cy="201.2" r="4.1"/>
<circle cx="1624.5" cy="210.2" r="4.1"/>
<circle cx="1618.6" cy="240.8" r="4.1"/>
<circle cx="1624.5" cy="239.6" r="4.1"/>
<circle cx="1630.1" cy="240.8" r="4.1"/>
<circle cx="1618.6" cy="246.4" r="4.1"/>
<circle cx="1630.1" cy="246" r="4.1"/>
<circle cx="1624.5" cy="244" r="4.1"/>
<circle cx="1651.1" cy="191.8" r="4.1"/>
<circle cx="1651.1" cy="207.6" r="4.1"/>
<circle cx="1651.1" cy="226.8" r="4.1"/>
<circle cx="1646.7" cy="243.4" r="4.1"/>
<circle cx="1655.7" cy="244.7" r="4.1"/>
<circle cx="1646" cy="251.1" r="4.1"/>
<circle cx="1655.7" cy="251.1" r="4.1"/>
<circle cx="1651.9" cy="256.2" r="4.1"/>
<circle cx="1651.9" cy="258.7" r="4.1"/>
<circle cx="1648" cy="248" r="4.1"/>
<text transform="translate(1462.3,279.8) scale(1,1.005) rotate(-45)" style="font-size:17.6px" text-anchor="end">Ctrl</text>
<text transform="translate(1489.5,279.8) scale(1,1.005) rotate(-45)" style="font-size:17.6px" text-anchor="end">EtOH</text>
<text transform="translate(1515.6,279.8) scale(1,1.005) rotate(-45)" style="font-size:17.6px" text-anchor="end">Dic</text>
<text transform="translate(1541.2,279.8) scale(1,1.005) rotate(-45)" style="font-size:17.6px" text-anchor="end">AEA</text>
<text transform="translate(1584,279.8) scale(1,1.005) rotate(-45)" style="font-size:17.6px" text-anchor="end">Ctrl</text>
<text transform="translate(1611.7,279.8) scale(1,1.005) rotate(-45)" style="font-size:17.6px" text-anchor="end">EtOH</text>
<text transform="translate(1637.3,279.8) scale(1,1.005) rotate(-45)" style="font-size:17.6px" text-anchor="end">Dic</text>
<text transform="translate(1663.2,279.8) scale(1,1.005) rotate(-45)" style="font-size:17.6px" text-anchor="end">AEA</text>
<text transform="translate(1507.04,341.8) scale(1,1.005)" style="font-size:17.5px" textLength="205.58" lengthAdjust="spacingAndGlyphs">+CD3/CD28/CD2 activator</text>
<text transform="translate(1490.6,108.7)" style="font-size:16.2px" text-anchor="middle" class="st">*</text>
<text transform="translate(1503.55,142.1)" style="font-size:16.2px" text-anchor="middle" class="st">*</text>
<text transform="translate(119.29,417.5) scale(1,1.005)" style="font-size:17.5px" font-weight="bold" textLength="163.56" lengthAdjust="spacingAndGlyphs">CD38+ CD8+ T cells</text>
<text transform="translate(53.1,446.4)" style="font-size:40px" class="L">F</text>
<text transform="translate(15.2,580.7) rotate(-90)" style="font-size:18.3px" text-anchor="middle" textLength="127" lengthAdjust="spacingAndGlyphs">% of CD8 T cells</text>
<text transform="translate(66.27,642.42) scale(1,1.005)" style="font-size:17.9px" text-anchor="end">10</text>
<text transform="translate(66.27,611.14) scale(1,1.005)" style="font-size:17.9px" text-anchor="end">20</text>
<text transform="translate(66.27,579.86) scale(1,1.005)" style="font-size:17.9px" text-anchor="end">30</text>
<text transform="translate(66.27,548.58) scale(1,1.005)" style="font-size:17.9px" text-anchor="end">40</text>
<text transform="translate(66.27,517.3) scale(1,1.005)" style="font-size:17.9px" text-anchor="end">50</text>
<rect x="86.3" y="664" width="15.2" height="2.8" fill="#868686" stroke="#000" stroke-width="2"/>
<rect x="112.3" y="664" width="15.2" height="2.8" fill="#868686" stroke="#000" stroke-width="2"/>
<rect x="138.7" y="664" width="15.2" height="2.8" fill="#868686" stroke="#000" stroke-width="2"/>
<rect x="164.9" y="664" width="15.2" height="2.8" fill="#868686" stroke="#000" stroke-width="2"/>
<rect x="208.4" y="631.6" width="15.2" height="35.2" fill="#ffffff" stroke="#000" stroke-width="2"/>
<rect x="234.6" y="628.8" width="15.2" height="38" fill="#ffffff" stroke="#000" stroke-width="2"/>
<rect x="260.6" y="618.8" width="15.2" height="48" fill="#ffffff" stroke="#000" stroke-width="2"/>
<rect x="286.9" y="664" width="15.2" height="2.8" fill="#ffffff" stroke="#000" stroke-width="2"/>
<path d="M93.9 662V666M89.9 662H97.9M89.9 666H97.9M119.9 662V666M115.9 662H123.9M115.9 666H123.9M146.3 662V666M142.3 662H150.3M142.3 666H150.3M172.5 662V666M168.5 662H176.5M168.5 666H176.5M216 623.1V640M212 623.1H220M212 640H220M242.2 621.6V636M238.2 621.6H246.2M238.2 636H246.2M268.2 608.6V629M264.2 608.6H272.2M264.2 629H272.2M294.5 661V666M290.5 661H298.5M290.5 666H298.5" stroke="#000" stroke-width="2" fill="none"/>
<path d="M66.7 635.52H74.2M66.7 604.24H74.2M66.7 572.96H74.2M66.7 541.68H74.2M66.7 510.4H74.2M74.2 509.3V666.8M66.7 666.8H312.4M93.9 666.8V673.6M119.9 666.8V673.6M146.3 666.8V673.6M172.5 666.8V673.6M216 666.8V673.6M242.2 666.8V673.6M268.2 666.8V673.6M294.5 666.8V673.6M199.7 716H310.5M216.7 479.5H294.5M242.7 512.7H294.5M268.5 545.8H294.5" stroke="#000" stroke-width="2.2" fill="none"/>
<circle cx="88.4" cy="663.2" r="3.1" class="o"/>
<circle cx="90.9" cy="661.8" r="3.1" class="o"/>
<circle cx="93.9" cy="663" r="3.1" class="o"/>
<circle cx="96.9" cy="661.8" r="3.1" class="o"/>
<circle cx="99.4" cy="663.2" r="3.1" class="o"/>
<circle cx="89.9" cy="664.7" r="3.1" class="o"/>
<circle cx="97.9" cy="664.7" r="3.1" class="o"/>
<circle cx="93.9" cy="660.2" r="3.1" class="o"/>
<circle cx="92.4" cy="665.3" r="3.1" class="o"/>
<circle cx="95.4" cy="665.3" r="3.1" class="o"/>
<circle cx="95.8" cy="656.5" r="3.1" class="o"/>
<circle cx="92.5" cy="659.5" r="3.1" class="o"/>
<circle cx="97.5" cy="659.5" r="3.1" class="o"/>
<circle cx="114.4" cy="663.2" r="3.1" class="o"/>
<circle cx="116.9" cy="661.8" r="3.1" class="o"/>
<circle cx="119.9" cy="663" r="3.1" class="o"/>
<circle cx="122.9" cy="661.8" r="3.1" class="o"/>
<circle cx="125.4" cy="663.2" r="3.1" class="o"/>
<circle cx="115.9" cy="664.7" r="3.1" class="o"/>
<circle cx="123.9" cy="664.7" r="3.1" class="o"/>
<circle cx="119.9" cy="660.2" r="3.1" class="o"/>
<circle cx="118.4" cy="665.3" r="3.1" class="o"/>
<circle cx="121.4" cy="665.3" r="3.1" class="o"/>
<circle cx="120.4" cy="654" r="3.1" class="o"/>
<circle cx="115.4" cy="660.5" r="3.1" class="o"/>
<circle cx="121.6" cy="660" r="3.1" class="o"/>
<circle cx="140.8" cy="663.2" r="3.1" class="o"/>
<circle cx="143.3" cy="661.8" r="3.1" class="o"/>
<circle cx="146.3" cy="663" r="3.1" class="o"/>
<circle cx="149.3" cy="661.8" r="3.1" class="o"/>
<circle cx="151.8" cy="663.2" r="3.1" class="o"/>
<circle cx="142.3" cy="664.7" r="3.1" class="o"/>
<circle cx="150.3" cy="664.7" r="3.1" class="o"/>
<circle cx="146.3" cy="660.2" r="3.1" class="o"/>
<circle cx="144.8" cy="665.3" r="3.1" class="o"/>
<circle cx="147.8" cy="665.3" r="3.1" class="o"/>
<circle cx="146.5" cy="652.7" r="3.1" class="o"/>
<circle cx="143" cy="660.2" r="3.1" class="o"/>
<circle cx="148" cy="660.5" r="3.1" class="o"/>
<circle cx="167" cy="663.2" r="3.1" class="o"/>
<circle cx="169.5" cy="661.8" r="3.1" class="o"/>
<circle cx="172.5" cy="663" r="3.1" class="o"/>
<circle cx="175.5" cy="661.8" r="3.1" class="o"/>
<circle cx="178" cy="663.2" r="3.1" class="o"/>
<circle cx="168.5" cy="664.7" r="3.1" class="o"/>
<circle cx="176.5" cy="664.7" r="3.1" class="o"/>
<circle cx="172.5" cy="660.2" r="3.1" class="o"/>
<circle cx="171" cy="665.3" r="3.1" class="o"/>
<circle cx="174" cy="665.3" r="3.1" class="o"/>
<circle cx="172.5" cy="652.7" r="3.1" class="o"/>
<circle cx="168.5" cy="662" r="3.1" class="o"/>
<circle cx="216" cy="576.6" r="4.1"/>
<circle cx="209.8" cy="612.4" r="4.1"/>
<circle cx="216" cy="609.9" r="4.1"/>
<circle cx="216" cy="618.4" r="4.1"/>
<circle cx="209.8" cy="632.5" r="4.1"/>
<circle cx="216" cy="636.3" r="4.1"/>
<circle cx="222" cy="642.9" r="4.1"/>
<circle cx="209.8" cy="648.5" r="4.1"/>
<circle cx="216" cy="648.5" r="4.1"/>
<circle cx="222" cy="650" r="4.1"/>
<circle cx="216" cy="659.8" r="4.1"/>
<circle cx="247.5" cy="597.3" r="4.1"/>
<circle cx="242" cy="600.1" r="4.1"/>
<circle cx="236.5" cy="604.6" r="4.1"/>
<circle cx="242" cy="609.9" r="4.1"/>
<circle cx="237" cy="624" r="4.1"/>
<circle cx="242" cy="626.9" r="4.1"/>
<circle cx="242" cy="634.4" r="4.1"/>
<circle cx="237" cy="648.5" r="4.1"/>
<circle cx="242.7" cy="648.5" r="4.1"/>
<circle cx="247.5" cy="653.8" r="4.1"/>
<circle cx="237" cy="658" r="4.1"/>
<circle cx="274.2" cy="564.1" r="4.1"/>
<circle cx="268.2" cy="569.8" r="4.1"/>
<circle cx="268.2" cy="594.5" r="4.1"/>
<circle cx="263.1" cy="613.5" r="4.1"/>
<circle cx="268.2" cy="611.8" r="4.1"/>
<circle cx="274.2" cy="612.4" r="4.1"/>
<circle cx="268.2" cy="633.5" r="4.1"/>
<circle cx="263.1" cy="642.9" r="4.1"/>
<circle cx="263.1" cy="648.6" r="4.1"/>
<circle cx="268.2" cy="648.2" r="4.1"/>
<circle cx="274.2" cy="648.6" r="4.1"/>
<circle cx="289" cy="663.2" r="4.1"/>
<circle cx="291.5" cy="661.8" r="4.1"/>
<circle cx="294.5" cy="663" r="4.1"/>
<circle cx="297.5" cy="661.8" r="4.1"/>
<circle cx="300" cy="663.2" r="4.1"/>
<circle cx="290.5" cy="664.7" r="4.1"/>
<circle cx="298.5" cy="664.7" r="4.1"/>
<circle cx="294.5" cy="660.2" r="4.1"/>
<circle cx="293" cy="665.3" r="4.1"/>
<circle cx="296" cy="665.3" r="4.1"/>
<circle cx="294.5" cy="655.1" r="4.1"/>
<circle cx="291" cy="659" r="4.1"/>
<circle cx="297.5" cy="660" r="4.1"/>
<text transform="translate(98.6,681.7) scale(1,1.005) rotate(-45)" style="font-size:17.6px" text-anchor="end">Ctrl</text>
<text transform="translate(126.2,681.7) scale(1,1.005) rotate(-45)" style="font-size:17.6px" text-anchor="end">EtOH</text>
<text transform="translate(152.6,681.7) scale(1,1.005) rotate(-45)" style="font-size:17.6px" text-anchor="end">Dic</text>
<text transform="translate(178.1,681.7) scale(1,1.005) rotate(-45)" style="font-size:17.6px" text-anchor="end">AEA</text>
<text transform="translate(220.7,681.7) scale(1,1.005) rotate(-45)" style="font-size:17.6px" text-anchor="end">Ctrl</text>
<text transform="translate(248.5,681.7) scale(1,1.005) rotate(-45)" style="font-size:17.6px" text-anchor="end">EtOH</text>
<text transform="translate(274.5,681.7) scale(1,1.005) rotate(-45)" style="font-size:17.6px" text-anchor="end">Dic</text>
<text transform="translate(300.1,681.7) scale(1,1.005) rotate(-45)" style="font-size:17.6px" text-anchor="end">AEA</text>
<text transform="translate(150.04,739.3) scale(1,1.005)" style="font-size:17.5px" textLength="205.58" lengthAdjust="spacingAndGlyphs">+CD3/CD28/CD2 activator</text>
<text transform="translate(258.1,483.8)" style="font-size:16.2px" text-anchor="middle" class="st">**</text>
<text transform="translate(271.1,517)" style="font-size:16.2px" text-anchor="middle" class="st">**</text>
<text transform="translate(284,550.1)" style="font-size:16.2px" text-anchor="middle" class="st">**</text>
<text transform="translate(448.08,418.7) scale(1,1.005)" style="font-size:17.5px" font-weight="bold" textLength="164.06" lengthAdjust="spacingAndGlyphs">CD69+ CD8+ T cells</text>
<text transform="translate(387.1,448.9)" style="font-size:41.5px" class="L">G</text>
<text transform="translate(352.3,577.6) rotate(-90)" style="font-size:18.3px" text-anchor="middle" textLength="126.3" lengthAdjust="spacingAndGlyphs">% of CD8 T cells</text>
<text transform="translate(405.3,669.9) scale(1,1.005)" style="font-size:17.4px" text-anchor="end">0</text>
<text transform="translate(405.3,638.5) scale(1,1.005)" style="font-size:17.4px" text-anchor="end">10</text>
<text transform="translate(405.3,607.1) scale(1,1.005)" style="font-size:17.4px" text-anchor="end">20</text>
<text transform="translate(405.3,575.7) scale(1,1.005)" style="font-size:17.4px" text-anchor="end">30</text>
<text transform="translate(405.3,544.3) scale(1,1.005)" style="font-size:17.4px" text-anchor="end">40</text>
<text transform="translate(405.3,512.9) scale(1,1.005)" style="font-size:17.4px" text-anchor="end">50</text>
<rect x="422.5" y="662.5" width="15.2" height="2.9" fill="#868686" stroke="#000" stroke-width="2"/>
<rect x="448.6" y="663" width="15.2" height="2.4" fill="#868686" stroke="#000" stroke-width="2"/>
<rect x="474.7" y="662" width="15.2" height="3.4" fill="#868686" stroke="#000" stroke-width="2"/>
<rect x="500.2" y="664.5" width="15.2" height="0.9" fill="#868686" stroke="#000" stroke-width="2"/>
<rect x="544.5" y="596.9" width="15.2" height="68.5" fill="#ffffff" stroke="#000" stroke-width="2"/>
<rect x="570.6" y="589.7" width="15.2" height="75.7" fill="#ffffff" stroke="#000" stroke-width="2"/>
<rect x="596.6" y="580.8" width="15.2" height="84.6" fill="#ffffff" stroke="#000" stroke-width="2"/>
<rect x="623" y="625.5" width="15.2" height="39.9" fill="#ffffff" stroke="#000" stroke-width="2"/>
<path d="M430.1 659.5V665M426.1 659.5H434.1M426.1 665H434.1M456.2 660.5V665M452.2 660.5H460.2M452.2 665H460.2M482.3 658.8V665M478.3 658.8H486.3M478.3 665H486.3M507.8 663.5V665.4M503.8 663.5H511.8M503.8 665.4H511.8M552.1 591V603M548.1 591H556.1M548.1 603H556.1M578.2 585.5V594M574.2 585.5H582.2M574.2 594H582.2M604.2 574.4V587.5M600.2 574.4H608.2M600.2 587.5H608.2M630.6 614V637M626.6 614H634.6M626.6 637H634.6" stroke="#000" stroke-width="2" fill="none"/>
<path d="M405.7 665.4H413.2M405.7 634H413.2M405.7 602.6H413.2M405.7 571.2H413.2M405.7 539.8H413.2M405.7 508.4H413.2M413.2 507.3V665.4M405.7 665.4H648M430.1 665.4V672.2M456.2 665.4V672.2M482.3 665.4V672.2M507.8 665.4V672.2M552.1 665.4V672.2M578.2 665.4V672.2M604.2 665.4V672.2M630.6 665.4V672.2M535.7 716.2H646.9M578.5 480.3H630.7M604.2 511H630.6" stroke="#000" stroke-width="2.2" fill="none"/>
<circle cx="424.6" cy="663.8" r="3.1" class="o"/>
<circle cx="427.1" cy="662.4" r="3.1" class="o"/>
<circle cx="430.1" cy="663.6" r="3.1" class="o"/>
<circle cx="433.1" cy="662.4" r="3.1" class="o"/>
<circle cx="435.6" cy="663.8" r="3.1" class="o"/>
<circle cx="426.1" cy="665.3" r="3.1" class="o"/>
<circle cx="434.1" cy="665.3" r="3.1" class="o"/>
<circle cx="430.1" cy="660.8" r="3.1" class="o"/>
<circle cx="428.6" cy="665.9" r="3.1" class="o"/>
<circle cx="431.6" cy="665.9" r="3.1" class="o"/>
<circle cx="429.7" cy="648" r="3.1" class="o"/>
<circle cx="429.9" cy="658.2" r="3.1" class="o"/>
<circle cx="424.9" cy="660.7" r="3.1" class="o"/>
<circle cx="450.7" cy="663.8" r="3.1" class="o"/>
<circle cx="453.2" cy="662.4" r="3.1" class="o"/>
<circle cx="456.2" cy="663.6" r="3.1" class="o"/>
<circle cx="459.2" cy="662.4" r="3.1" class="o"/>
<circle cx="461.7" cy="663.8" r="3.1" class="o"/>
<circle cx="452.2" cy="665.3" r="3.1" class="o"/>
<circle cx="460.2" cy="665.3" r="3.1" class="o"/>
<circle cx="456.2" cy="660.8" r="3.1" class="o"/>
<circle cx="454.7" cy="665.9" r="3.1" class="o"/>
<circle cx="457.7" cy="665.9" r="3.1" class="o"/>
<circle cx="455.8" cy="656.7" r="3.1" class="o"/>
<circle cx="452" cy="661" r="3.1" class="o"/>
<circle cx="476.8" cy="663.8" r="3.1" class="o"/>
<circle cx="479.3" cy="662.4" r="3.1" class="o"/>
<circle cx="482.3" cy="663.6" r="3.1" class="o"/>
<circle cx="485.3" cy="662.4" r="3.1" class="o"/>
<circle cx="487.8" cy="663.8" r="3.1" class="o"/>
<circle cx="478.3" cy="665.3" r="3.1" class="o"/>
<circle cx="486.3" cy="665.3" r="3.1" class="o"/>
<circle cx="482.3" cy="660.8" r="3.1" class="o"/>
<circle cx="480.8" cy="665.9" r="3.1" class="o"/>
<circle cx="483.8" cy="665.9" r="3.1" class="o"/>
<circle cx="482" cy="636.8" r="3.1" class="o"/>
<circle cx="477" cy="660.4" r="3.1" class="o"/>
<circle cx="502.3" cy="664.2" r="3.1" class="o"/>
<circle cx="504.8" cy="662.8" r="3.1" class="o"/>
<circle cx="507.8" cy="664" r="3.1" class="o"/>
<circle cx="510.8" cy="662.8" r="3.1" class="o"/>
<circle cx="513.3" cy="664.2" r="3.1" class="o"/>
<circle cx="503.8" cy="665.7" r="3.1" class="o"/>
<circle cx="511.8" cy="665.7" r="3.1" class="o"/>
<circle cx="507.8" cy="661.2" r="3.1" class="o"/>
<circle cx="506.3" cy="666.3" r="3.1" class="o"/>
<circle cx="509.3" cy="666.3" r="3.1" class="o"/>
<circle cx="506" cy="662" r="3.1" class="o"/>
<circle cx="511" cy="662" r="3.1" class="o"/>
<circle cx="552.1" cy="560.8" r="4.1"/>
<circle cx="552.1" cy="568.8" r="4.1"/>
<circle cx="552.1" cy="577.4" r="4.1"/>
<circle cx="546.2" cy="600" r="4.1"/>
<circle cx="557.7" cy="596" r="4.1"/>
<circle cx="556.5" cy="602.5" r="4.1"/>
<circle cx="550" cy="608" r="4.1"/>
<circle cx="554" cy="614.5" r="4.1"/>
<circle cx="552.1" cy="645.2" r="4.1"/>
<circle cx="548" cy="603" r="4.1"/>
<circle cx="574.8" cy="562.9" r="4.1"/>
<circle cx="578.2" cy="568.8" r="4.1"/>
<circle cx="571.8" cy="589.6" r="4.1"/>
<circle cx="578.2" cy="588.5" r="4.1"/>
<circle cx="584.6" cy="591" r="4.1"/>
<circle cx="578.2" cy="586" r="4.1"/>
<circle cx="575" cy="592.5" r="4.1"/>
<circle cx="582" cy="593" r="4.1"/>
<circle cx="578.2" cy="603.8" r="4.1"/>
<circle cx="578.2" cy="631.4" r="4.1"/>
<circle cx="572" cy="586" r="4.1"/>
<circle cx="584.5" cy="585" r="4.1"/>
<circle cx="578.2" cy="594" r="4.1"/>
<circle cx="575" cy="583" r="4.1"/>
<circle cx="604.2" cy="522.5" r="4.1"/>
<circle cx="604.2" cy="553.4" r="4.1"/>
<circle cx="599.9" cy="571.3" r="4.1"/>
<circle cx="606.3" cy="569.8" r="4.1"/>
<circle cx="599.9" cy="585.9" r="4.1"/>
<circle cx="606.3" cy="585.9" r="4.1"/>
<circle cx="604.2" cy="582" r="4.1"/>
<circle cx="610.5" cy="585.5" r="4.1"/>
<circle cx="604.2" cy="603.3" r="4.1"/>
<circle cx="604.2" cy="628.8" r="4.1"/>
<circle cx="598.5" cy="581" r="4.1"/>
<circle cx="610" cy="579" r="4.1"/>
<circle cx="604.2" cy="576.5" r="4.1"/>
<circle cx="601" cy="589" r="4.1"/>
<circle cx="630.6" cy="560.8" r="4.1"/>
<circle cx="630.6" cy="578.7" r="4.1"/>
<circle cx="630.6" cy="586.7" r="4.1"/>
<circle cx="630.6" cy="596.6" r="4.1"/>
<circle cx="625" cy="639.5" r="4.1"/>
<circle cx="630.6" cy="636.2" r="4.1"/>
<circle cx="636.5" cy="642.9" r="4.1"/>
<circle cx="630.6" cy="646" r="4.1"/>
<circle cx="630.6" cy="656.2" r="4.1"/>
<circle cx="625" cy="664.6" r="4.1"/>
<circle cx="635.8" cy="660.6" r="4.1"/>
<text transform="translate(440.8,681.3) scale(1,1.005) rotate(-45)" style="font-size:17.6px" text-anchor="end">Ctrl</text>
<text transform="translate(468.5,681.3) scale(1,1.005) rotate(-45)" style="font-size:17.6px" text-anchor="end">EtOH</text>
<text transform="translate(494.6,681.3) scale(1,1.005) rotate(-45)" style="font-size:17.6px" text-anchor="end">Dic</text>
<text transform="translate(519.4,681.3) scale(1,1.005) rotate(-45)" style="font-size:17.6px" text-anchor="end">AEA</text>
<text transform="translate(562.8,681.3) scale(1,1.005) rotate(-45)" style="font-size:17.6px" text-anchor="end">Ctrl</text>
<text transform="translate(590.5,681.3) scale(1,1.005) rotate(-45)" style="font-size:17.6px" text-anchor="end">EtOH</text>
<text transform="translate(616.5,681.3) scale(1,1.005) rotate(-45)" style="font-size:17.6px" text-anchor="end">Dic</text>
<text transform="translate(642.2,681.3) scale(1,1.005) rotate(-45)" style="font-size:17.6px" text-anchor="end">AEA</text>
<text transform="translate(486.34,738.8) scale(1,1.005)" style="font-size:17.5px" textLength="205.58" lengthAdjust="spacingAndGlyphs">+CD3/CD28/CD2 activator</text>
<text transform="translate(607.1,484.6)" style="font-size:16.2px" text-anchor="middle" class="st">*</text>
<text transform="translate(618.4,515.3)" style="font-size:16.2px" text-anchor="middle" class="st">**</text>
<text transform="translate(698.2,448.6)" style="font-size:41px" class="L">H</text>
<text transform="translate(702.6,564) rotate(-90)" text-anchor="middle" style="font-size:17.4px" font-weight="bold" textLength="116" lengthAdjust="spacingAndGlyphs">CD69-BUV395</text>
<text transform="translate(1190.48,718.7) scale(1,1.005)" style="font-size:17.5px" font-weight="bold" textLength="116.73" lengthAdjust="spacingAndGlyphs">CD38-BUV615</text>
<ellipse cx="798" cy="613" rx="12" ry="6.5" fill="url(#cg)"/>
<path d="M813.9 625L821 624.7L824 624.37L827 623.88L829.75 623.26L832.25 622.51L834.5 621.64L836.5 620.66L838.25 619.59L839.75 618.45L841.25 617L842.48 615.5L843.06 614L843.43 612.5L843.63 610.75L843.65 608.75L843.52 607L843.16 605.25L842.61 603.75L841.79 602.25L840.87 601L839.72 599.75L835.72 596.25L834.25 594.77L833.14 593.25L832.14 591.25L831.44 589.25L830.75 586.75L827.19 571.25L824.67 561.25L822.41 553.25L820.15 546.25L817.65 539.75L815.31 535L814.21 533.25L813 531.75L811.76 530.75L811 530.5L810.24 530.75L809.25 531.5L808.15 532.75L807.13 534.25L805.02 538.25L802.85 543.5L800.2 551.25L797.46 560.75L794.81 571.25L791.27 586.75L790.24 590.5L789.28 593L788.2 595L787 596.66L783.62 600.75L782.11 603.25L781.52 604.75L781.09 606.5L780.9 608.25L780.84 610.75L780.98 612.5L781.25 614L783.32 616.75L784.82 618.25L786.41 619.5L788.46 620.75L790.5 621.73L792.75 622.58L795.01 623.25L797.75 623.87L800.5 624.33L806.5 624.88L813.9 625ZM817.89 623.75L823 623.12L827.5 622.07L831.25 620.65L832.96 619.75L834.5 618.74L836.52 617L837.99 615.25L838.5 613.75L838.83 612L838.92 610.25L838.85 608.25L838.63 606.75L838.27 605.5L837.74 604.25L837 603L835.36 601L830.98 596.75L829.75 595.03L828.88 593.25L828.18 591.25L827.5 588.72L824.36 574.5L822.25 565.75L820.42 559L818.65 553.25L816.54 547.5L814.55 543.25L813.64 541.75L812.67 540.5L811.84 539.75L811 539.32L810.16 539.75L809.33 540.5L808.36 541.75L807.45 543.25L805.46 547.5L803.35 553.25L801.51 559.25L799.69 566L797.64 574.5L794.55 588.5L793.89 591L793.25 592.86L792.34 594.75L791.25 596.29L790 597.59L785.88 601.25L784.8 602.5L783.95 603.75L783.13 605.5L782.68 607.25L782.51 609L782.54 611.5L782.81 613.25L783.37 615L783.75 615.8L784.83 617L786.5 618.47L788.25 619.66L790.33 620.75L792.75 621.71L795.25 622.46L797.69 623L800.5 623.45L803.25 623.73L810.25 623.98L814.5 623.93L817.89 623.75ZM816.17 623L820.75 622.43L825 621.42L826.93 620.75L828.64 620L830.03 619.25L831.5 618.28L833.75 616.26L834.5 614.75L834.91 613.5L835.16 612.25L835.23 609L835.04 607.5L834.7 606.25L834.16 605L833.38 603.75L831.57 601.75L827.75 598.66L826.51 597.5L825.35 596L824.5 594.37L823.82 592.5L823.21 590.25L820.61 578.5L819.05 572L816.54 563.25L815 559L813.61 556L812.3 554L811.8 553.5L811 553.05L810.2 553.5L809.7 554L808.39 556L807 559L805.46 563.25L804.02 568L802.57 573.5L798.75 590.34L798.12 592.5L797.53 594L796.5 595.72L795.25 596.99L793.75 598.03L790.18 600L788.5 601.06L786.99 602.25L785.6 603.75L784.53 605.5L783.93 607.25L783.68 609L783.69 611.5L783.98 613.25L784.52 614.75L785.38 616.25L786.5 617.62L787.75 618.59L789.25 619.52L791 620.39L792.75 621.08L794.95 621.75L797.25 622.28L802.5 622.99L809.25 623.22L816.17 623ZM811.55 622.5L816.25 622.17L820.5 621.45L824.25 620.32L827.25 618.9L829.27 617.5L830.84 616L831.42 614.75L831.81 613.5L832.05 612L832.1 610.5L832 608.75L831.75 607.44L831.23 606L830.52 604.75L828.81 602.75L825.25 599.76L824 598.56L822.99 597.25L822.17 595.75L820.97 592.25L817.72 578.75L816.54 574.5L815.42 571L814.18 567.75L813.09 565.5L812.05 564L811.49 563.5L811 563.27L810.51 563.5L809.95 564L808.91 565.5L807.82 567.75L806.66 570.75L805.53 574.25L804.35 578.5L801.06 592L800.41 594L799.75 595.44L798.75 596.84L797.36 598L796 598.75L792 600.5L790.25 601.39L788.53 602.5L787.09 603.75L785.9 605.25L785.15 606.75L784.71 608.5L784.59 610.75L784.69 612.25L785.03 613.75L785.55 615L786.25 616.13L787.2 617.25L788.5 618.42L791.25 619.91L793.25 620.68L795.19 621.25L799.75 622.1L804.75 622.49L811.55 622.5ZM812.56 621.75L816.5 621.29L820.01 620.5L823.25 619.3L825.75 617.88L827.5 616.48L828.35 615L828.71 614L828.99 612.75L829.09 610.25L828.94 608.75L828.63 607.5L828.09 606.25L827.28 605L825.61 603.25L821.25 599.75L820.14 598.5L819.25 597.07L818.03 594L815.49 585L813.96 580.5L813.2 578.75L812.37 577.25L811.52 576.25L811 576L810.48 576.25L809.63 577.25L808.92 578.5L808.14 580.25L806.58 584.75L804 593.76L803.25 595.66L802.47 597L801.5 598.05L800 598.99L792.25 601.67L790.12 602.75L788.5 603.9L787.17 605.25L786.11 607L785.56 609L785.46 611.25L785.61 612.75L785.94 614L786.52 615.25L787.21 616.25L788.15 617.25L789.39 618.25L791 619.25L792.25 619.79L794.25 620.47L796.25 620.98L800.75 621.66L806 621.91L812.56 621.75ZM809.67 621.25L813.5 620.92L816.75 620.33L819.75 619.41L822.23 618.25L824.1 617L825.16 616L825.98 614L826.3 611.75L826.12 609L825.77 607.75L825.32 606.75L824.67 605.75L823.82 604.75L819.25 600.87L818.25 599.79L817.52 598.75L816.22 596L814.09 589.5L813.03 586.75L811.93 584.75L811.48 584.25L811 584L810.52 584.25L810.07 584.75L809.09 586.5L808.09 589L805.81 595.75L805 597.42L804.21 598.5L803.25 599.33L801.75 600.09L794 602.13L791.83 603L790.04 604L788.49 605.25L787.25 606.84L786.56 608.5L786.28 610.5L786.31 612L786.49 613.25L786.91 614.5L787.5 615.56L788.25 616.5L789.33 617.5L790.75 618.46L792.27 619.25L793.51 619.75L795.5 620.31L799.5 621.01L804 621.3L809.67 621.25Z" fill="none" stroke="#a0a0a0" stroke-width="0.7" stroke-linejoin="round"/>
<path d="M810.28 620.5L814.5 619.84L816.25 619.36L818 618.69L819.5 617.91L820.75 617.01L821.76 616L822.45 615L822.99 613.75L823.26 612.25L823.26 610.25L822.97 608.75L822.43 607.5L821.73 606.5L820.72 605.5L819.28 604.5L817.75 603.74L815.75 603.03L813.75 602.54L811.5 602.17L809 601.94L806.25 601.85L802.75 601.88L800 602.05L797.75 602.33L795.75 602.73L793.91 603.25L792.25 603.9L790.75 604.7L789.64 605.5L788.63 606.5L787.93 607.5L787.39 608.75L787.1 610.25L787.1 612.25L787.37 613.75L787.91 615L788.6 616L789.6 617L791.02 618L792.5 618.75L794.5 619.48L796.5 619.98L798.75 620.35L801.25 620.59L804 620.68L807.5 620.66L810.28 620.5Z" fill="none" stroke="#9b9b9b" stroke-width="0.7" stroke-linejoin="round"/>
<path d="M808.27 620L812.25 619.45L813.97 619L815.5 618.45L816.93 617.75L818.06 617L818.9 616.25L819.69 615.25L820.3 614L820.58 612.75L820.64 611L820.43 609.5L819.94 608.25L819.28 607.25L818.28 606.25L817.23 605.5L815.8 604.75L814.25 604.16L812.25 603.62L810.25 603.28L805.5 602.95L799.75 603.11L795.75 603.73L792.66 604.75L791.25 605.49L790.19 606.25L789.4 607L788.66 608L788.11 609.25L787.86 610.5L787.84 612.25L788.09 613.75L788.49 614.75L789.13 615.75L790.1 616.75L791.25 617.58L792.51 618.25L794.25 618.92L796 619.4L798 619.76L802.5 620.11L808.27 620Z" fill="none" stroke="#959595" stroke-width="0.7" stroke-linejoin="round"/>
<path d="M806.37 619.5L810.25 619.02L813.25 618.14L814.5 617.55L815.5 616.92L816.5 616.06L817.15 615.25L817.68 614.25L818 613L818.07 611.5L817.94 610.25L817.64 609.25L817.09 608.25L816.25 607.28L815.27 606.5L814 605.78L812.73 605.25L811.06 604.75L809.25 604.39L805.25 604.04L800 604.1L796.5 604.54L793.5 605.4L792.19 606L791 606.75L790.15 607.5L789.53 608.25L788.98 609.25L788.64 610.5L788.56 612L788.67 613.25L788.95 614.25L789.47 615.25L790.31 616.25L791.25 617.01L792.5 617.75L793.75 618.28L795.5 618.82L797.25 619.18L801.25 619.55L806.37 619.5Z" fill="none" stroke="#8f8f8f" stroke-width="0.7" stroke-linejoin="round"/>
<path d="M804.58 619L808 618.65L810.75 617.94L812 617.42L813 616.84L813.78 616.25L814.49 615.5L815.1 614.5L815.43 613.5L815.55 612.5L815.5 611L815.27 610L814.78 609L814.2 608.25L813.36 607.5L812.25 606.8L811.04 606.25L809.5 605.76L808 605.44L804.5 605.08L799.75 605.11L796.5 605.5L793.79 606.25L791.75 607.3L790.88 608L790.22 608.75L789.66 609.75L789.37 610.75L789.27 612L789.35 613.25L789.62 614.25L790.16 615.25L790.79 616L791.69 616.75L792.75 617.38L794 617.92L796.75 618.64L800.24 619L804.58 619Z" fill="none" stroke="#898989" stroke-width="0.7" stroke-linejoin="round"/>
<path d="M802.86 618.5L806 618.24L808.5 617.67L810.55 616.75L811.28 616.25L812.05 615.5L812.56 614.75L812.95 613.75L813.09 612.75L813.07 611.5L812.85 610.5L812.52 609.75L811.48 608.5L810.5 607.8L809.5 607.29L807 606.52L804 606.13L799.75 606.09L796.75 606.39L794.25 607.02L792.25 608L791.5 608.59L790.89 609.25L790.42 610L790.09 611L789.98 612L790.03 613.25L790.28 614.25L790.66 615L791.8 616.25L792.75 616.88L793.75 617.36L796.25 618.1L799.25 618.46L802.86 618.5Z" fill="none" stroke="#828282" stroke-width="0.7" stroke-linejoin="round"/>
<path d="M801.03 618L804 617.84L806.25 617.4L808 616.72L809.5 615.66L810.04 615L810.43 614.25L810.63 613.5L810.69 612.5L810.61 611.5L810.4 610.75L810 610L809.5 609.4L808 608.34L806 607.6L803.5 607.17L800.25 607.06L797.25 607.24L795 607.7L793.05 608.5L791.76 609.5L791.19 610.25L790.86 611L790.7 611.75L790.66 612.75L790.78 613.75L791.03 614.5L791.94 615.75L793.41 616.75L795.5 617.5L798 617.9L801.03 618Z" fill="none" stroke="#7c7c7c" stroke-width="0.7" stroke-linejoin="round"/>
<path d="M803.35 617.25L805 616.83L806.5 616.13L807.52 615.25L808.1 614.25L808.33 612.75L808.09 611.25L807.49 610.25L806.24 609.25L804.5 608.54L802.5 608.16L800 608.04L797.25 608.15L795.5 608.46L793.91 609L792.69 609.75L791.81 610.75L791.49 611.5L791.35 612.25L791.48 614L792.14 615.25L793.36 616.25L795.2 617L797.5 617.41L800.75 617.49L803.35 617.25Z" fill="none" stroke="#767676" stroke-width="0.7" stroke-linejoin="round"/>
<path d="M802.11 616.75L803.5 616.35L804.63 615.75L805.41 615L805.82 614.25L806 613L805.82 611.75L805.2 610.75L804.24 610L803 609.47L801.25 609.11L799.25 609L797 609.08L795.5 609.34L794.25 609.75L793.05 610.5L792.42 611.25L792.02 612.5L792.11 614L792.42 614.75L792.75 615.2L793.76 616L795.25 616.6L797.25 616.94L800 616.98L802.11 616.75Z" fill="none" stroke="#707070" stroke-width="0.7" stroke-linejoin="round"/>
<text transform="translate(800.91,477.2) scale(1,1.005)" style="font-size:16.6px" textLength="34.5" lengthAdjust="spacingAndGlyphs">22.2</text>
<text transform="translate(872.15,611.2) scale(1,1.005)" style="font-size:16.6px" textLength="34.45" lengthAdjust="spacingAndGlyphs">18.3</text>
<text transform="translate(878.41,469) scale(1,1.005)" style="font-size:16.6px" textLength="56.39" lengthAdjust="spacingAndGlyphs">Control</text>
<rect x="773.9" y="660.5" width="8.43" height="4.2" fill="#000"/>
<rect x="728.2" y="608.36" width="4.2" height="8.49" fill="#000"/>
<text transform="translate(742.95,680.3) scale(0.9,1)" class="s" style="font-size:8.3px">-10</text>
<text transform="translate(754.51,674.5) scale(0.9,1)" class="s" style="font-size:7.6px">3</text>
<text transform="translate(780.4,680.3) scale(0.9,1)" class="s" style="font-size:8.3px">0</text>
<text transform="translate(811.98,680.3) scale(0.9,1)" class="s" style="font-size:8.3px">10</text>
<text transform="translate(819.52,674.7) scale(0.9,1)" class="s" style="font-size:7.6px">3</text>
<text transform="translate(868.52,680.3) scale(0.9,1)" class="s" style="font-size:8.3px">10</text>
<text transform="translate(876.13,674.7) scale(0.9,1)" class="s" style="font-size:7.6px">4</text>
<text transform="translate(916.28,680.3) scale(0.9,1)" class="s" style="font-size:8.3px">10</text>
<text transform="translate(923.75,674.7) scale(0.9,1)" class="s" style="font-size:7.6px">5</text>
<text transform="translate(710.69,475.9) scale(0.9,1)" class="s" style="font-size:8.3px">10</text>
<text transform="translate(718.26,470.1) scale(0.9,1)" class="s" style="font-size:7.6px">5</text>
<text transform="translate(710.69,525.25) scale(0.9,1)" class="s" style="font-size:8.3px">10</text>
<text transform="translate(718.39,519.45) scale(0.9,1)" class="s" style="font-size:7.6px">4</text>
<text transform="translate(710.69,582.33) scale(0.9,1)" class="s" style="font-size:8.3px">10</text>
<text transform="translate(718.33,576.53) scale(0.9,1)" class="s" style="font-size:7.6px">3</text>
<text transform="translate(715.09,615.62) scale(0.9,1)" class="s" style="font-size:8.3px">0</text>
<text transform="translate(706.17,651.19) scale(0.9,1)" class="s" style="font-size:8.3px">-10</text>
<text transform="translate(719.53,645.89) scale(0.9,1)" class="s" style="font-size:7.6px">3</text>
<ellipse cx="1081" cy="608" rx="12" ry="6.5" fill="url(#cg)"/>
<path d="M1091.76 620.7L1099 620.4L1102 620.07L1105 619.58L1107.75 618.95L1110.25 618.2L1112.75 617.22L1114.79 616.2L1116.5 615.13L1118.02 613.95L1119.31 612.7L1120.55 611.2L1121.3 609.45L1121.76 607.7L1121.98 605.7L1121.99 603.45L1121.83 601.7L1121.43 599.95L1120.72 598.2L1119.83 596.7L1118.84 595.45L1117.5 594.1L1113 590.5L1111.75 589.34L1110.5 587.78L1109.5 585.92L1108.75 583.91L1107.99 581.2L1104.45 565.95L1101.9 555.95L1099.68 548.2L1097.56 541.7L1095.04 535.2L1093.88 532.7L1092.67 530.45L1091.53 528.7L1090.5 527.45L1089.26 526.45L1088.5 526.2L1087.74 526.45L1086.75 527.2L1085.65 528.45L1084.63 529.95L1082.52 533.95L1080.35 539.2L1077.78 546.7L1075.1 555.95L1072.49 566.2L1068.97 581.45L1067.93 585.2L1067 587.63L1065.88 589.7L1064.75 591.28L1061.34 595.45L1060.36 596.95L1059.71 598.2L1059.06 599.95L1058.68 601.7L1058.5 603.45L1058.46 605.95L1058.59 607.7L1058.87 609.2L1061.04 612.2L1062.5 613.7L1064.04 614.95L1066 616.2L1068 617.2L1070.25 618.09L1072.75 618.87L1075.5 619.52L1078.25 619.99L1084.25 620.57L1091.76 620.7ZM1091.35 619.45L1097.5 619.15L1100.25 618.83L1103 618.36L1105.5 617.76L1107.75 617.05L1109.86 616.2L1111.8 615.2L1113.34 614.2L1114.75 613.06L1116.1 611.7L1116.54 610.95L1117.21 609.45L1117.69 607.7L1117.88 605.95L1117.88 603.95L1117.7 602.2L1117.33 600.7L1116.71 599.2L1115.77 597.7L1114.7 596.45L1113.5 595.32L1109 591.98L1107.75 590.89L1106.54 589.45L1105.57 587.7L1104.81 585.7L1104.11 583.2L1101.06 569.95L1099.04 561.95L1097.35 555.95L1095.66 550.7L1093.64 545.45L1091.79 541.7L1090.82 540.2L1089.98 539.2L1089.41 538.7L1088.5 538.24L1087.59 538.7L1086.78 539.45L1086 540.45L1085.06 541.95L1083.25 545.7L1081.26 550.95L1079.58 556.2L1077.82 562.45L1075.88 570.2L1072.9 583.2L1072.22 585.7L1071.51 587.7L1070.65 589.45L1069.5 591.06L1068.25 592.35L1064.22 595.95L1063.12 597.2L1062.25 598.45L1061.5 599.95L1060.96 601.7L1060.71 603.45L1060.67 605.95L1060.8 607.45L1061.05 608.7L1061.45 609.95L1061.91 610.95L1063.25 612.45L1064.96 613.95L1066.84 615.2L1069 616.3L1071 617.09L1073.25 617.79L1075.75 618.38L1078.5 618.85L1084.25 619.36L1091.35 619.45ZM1093.26 618.45L1098.5 617.98L1103.25 617.04L1105.25 616.44L1107.16 615.7L1108.75 614.94L1110.4 613.95L1112.5 612.24L1113.4 610.95L1114 609.79L1114.47 608.45L1114.72 607.2L1114.79 603.95L1114.6 602.45L1114.16 600.95L1113.42 599.45L1112.5 598.19L1111.29 596.95L1110.05 595.95L1105.5 593.05L1104.04 591.95L1102.75 590.53L1101.84 588.95L1101.24 587.45L1100.59 585.2L1096.8 568.7L1095.34 563.2L1093.96 558.7L1092.5 554.7L1091.11 551.7L1089.8 549.7L1089.3 549.2L1088.5 548.75L1087.7 549.2L1087.2 549.7L1085.89 551.7L1084.5 554.7L1083.04 558.7L1081.66 563.2L1080.2 568.7L1076.41 585.2L1075.76 587.45L1075.16 588.95L1074.25 590.53L1072.97 591.95L1071.5 593.06L1066.65 596.2L1065.22 597.45L1064.13 598.7L1063.09 600.45L1062.5 602.2L1062.25 603.95L1062.25 606.45L1062.45 607.95L1062.9 609.45L1063.64 610.95L1064.51 612.2L1065.62 613.2L1067.25 614.34L1068.8 615.2L1070.75 616.06L1073 616.82L1075.25 617.39L1080.25 618.19L1086 618.52L1093.26 618.45ZM1090.04 617.7L1095.5 617.39L1100 616.68L1104 615.53L1105.75 614.8L1107.25 614.02L1109.47 612.45L1110.3 611.45L1111.08 610.2L1111.61 608.95L1111.93 607.7L1112.09 604.95L1111.92 603.2L1111.52 601.7L1110.78 600.2L1109.84 598.95L1108.75 597.87L1107.25 596.73L1102.75 594.1L1101.25 593.07L1100 591.83L1099.1 590.45L1098.44 588.95L1097.78 586.95L1094.71 574.95L1092.61 568.2L1091.51 565.45L1090.5 563.45L1089.41 561.95L1088.5 561.32L1087.59 561.95L1086.65 563.2L1085.6 565.2L1084.48 567.95L1082.36 574.7L1079.21 586.95L1078.54 588.95L1077.83 590.45L1076.75 591.94L1075.57 592.95L1074.25 593.75L1068.93 596.45L1067.13 597.7L1065.81 598.95L1064.71 600.45L1064.02 601.95L1063.63 603.7L1063.54 605.95L1063.67 607.45L1063.95 608.7L1064.45 609.95L1065.25 611.26L1066.03 612.2L1067.08 613.2L1068.67 614.2L1070.25 614.98L1072.07 615.7L1074 616.29L1078.56 617.2L1083.5 617.64L1090.04 617.7ZM1093.71 616.7L1097.5 616.18L1101 615.33L1103.92 614.2L1106.51 612.7L1108.05 610.95L1108.65 609.95L1109.08 608.95L1109.49 606.95L1109.46 604.2L1109.14 602.7L1108.63 601.45L1107.81 600.2L1106.9 599.2L1105.75 598.23L1104.5 597.39L1099 594.38L1097.75 593.35L1096.75 592.09L1096 590.7L1095.32 588.95L1092.75 580.2L1091.34 576.2L1090.56 574.45L1089.84 573.2L1089.24 572.45L1088.5 571.97L1087.76 572.45L1087.16 573.2L1085.76 575.95L1084.25 580.2L1081.74 588.7L1081 590.59L1080.25 591.91L1079.25 593.06L1078 593.96L1076.5 594.68L1072.75 596.1L1070.75 596.99L1068.68 598.2L1067.18 599.45L1065.96 600.95L1065.15 602.7L1064.79 604.7L1064.84 607.2L1065.08 608.45L1065.56 609.7L1066.31 610.95L1067.17 611.95L1068.25 612.91L1069.35 613.7L1071 614.5L1072.86 615.2L1076.85 616.2L1081.5 616.78L1088.25 616.95L1093.71 616.7ZM1088.91 616.2L1093.25 615.93L1097.25 615.29L1100.75 614.25L1103.49 612.95L1104.23 612.45L1105.21 611.45L1106.37 609.7L1106.95 607.95L1107.11 605.7L1106.99 604.2L1106.57 602.7L1105.9 601.45L1104.87 600.2L1103.75 599.23L1102.5 598.39L1096.94 595.45L1095.75 594.51L1094.82 593.45L1094.2 592.45L1093.5 590.95L1091.31 584.7L1090.4 582.45L1089.39 580.7L1088.92 580.2L1088.5 579.97L1088.08 580.2L1087.61 580.7L1086.72 582.2L1085.68 584.7L1083.5 590.88L1082.75 592.4L1082 593.46L1081 594.38L1079.75 595.11L1072.5 597.57L1070.64 598.45L1069 599.52L1067.51 600.95L1066.57 602.45L1066.04 604.2L1065.92 606.2L1066 607.45L1066.29 608.7L1066.7 609.7L1067.33 610.7L1068.21 611.7L1069.07 612.45L1071.5 613.96L1074.75 615.05L1078.75 615.81L1083.25 616.17L1088.91 616.2Z" fill="none" stroke="#a0a0a0" stroke-width="0.7" stroke-linejoin="round"/>
<path d="M1088.15 615.45L1093 615.09L1097 614.27L1098.75 613.69L1100.37 612.95L1101.59 612.2L1102.75 611.24L1103.62 610.2L1104.25 609.02L1104.61 607.7L1104.71 606.45L1104.62 604.7L1104.29 603.45L1103.65 602.2L1102.83 601.2L1101.5 600.1L1099.75 599.11L1097.75 598.32L1095.5 597.71L1093 597.28L1090.25 597.01L1083.5 596.92L1080.75 597.06L1078.25 597.35L1076 597.77L1073.75 598.4L1072 599.11L1070.47 599.95L1069.18 600.95L1068.1 602.2L1067.46 603.45L1067.13 604.7L1067.04 606.7L1067.24 608.2L1067.69 609.45L1068.31 610.45L1069.22 611.45L1070.5 612.43L1071.88 613.2L1073.5 613.87L1075.4 614.45L1077.5 614.9L1082.25 615.4L1088.15 615.45Z" fill="none" stroke="#9b9b9b" stroke-width="0.7" stroke-linejoin="round"/>
<path d="M1088.99 614.7L1093 614.25L1096.5 613.37L1098 612.76L1099.25 612.08L1100.25 611.35L1101.15 610.45L1101.82 609.45L1102.28 608.2L1102.45 606.95L1102.42 605.45L1102.16 604.2L1101.71 603.2L1101 602.22L1100.2 601.45L1098.75 600.47L1097.25 599.76L1095.5 599.16L1093.25 598.64L1091 598.31L1088.25 598.11L1081.75 598.13L1077.25 598.65L1075.25 599.1L1073.45 599.7L1071.84 600.45L1070.68 601.2L1069.58 602.2L1068.85 603.2L1068.33 604.45L1068.12 605.7L1068.15 607.45L1068.42 608.7L1068.88 609.7L1069.63 610.7L1070.5 611.51L1071.75 612.34L1073 612.96L1074.75 613.59L1076.75 614.1L1078.75 614.44L1083.25 614.77L1088.99 614.7Z" fill="none" stroke="#959595" stroke-width="0.7" stroke-linejoin="round"/>
<path d="M1089.33 613.95L1092.75 613.44L1095.5 612.62L1097.75 611.45L1098.66 610.7L1099.32 609.95L1099.88 608.95L1100.17 607.95L1100.27 606.7L1100.19 605.45L1099.91 604.45L1099.38 603.45L1098.75 602.7L1097.87 601.95L1096.64 601.2L1095 600.5L1093.25 599.99L1091.25 599.59L1086.75 599.21L1080.75 599.31L1076.75 599.85L1075 600.31L1073.5 600.86L1072.31 601.45L1071.21 602.2L1070.42 602.95L1069.72 603.95L1069.33 604.95L1069.16 605.95L1069.17 607.45L1069.43 608.7L1069.92 609.7L1070.74 610.7L1071.66 611.45L1072.75 612.1L1074.1 612.7L1075.75 613.22L1079.5 613.89L1084 614.12L1089.33 613.95Z" fill="none" stroke="#8f8f8f" stroke-width="0.7" stroke-linejoin="round"/>
<path d="M1086.01 613.45L1089.41 613.2L1092.25 612.66L1094.75 611.76L1096.5 610.62L1097.15 609.95L1097.64 609.2L1097.94 608.45L1098.11 607.45L1097.98 605.45L1097.58 604.45L1097.06 603.7L1096.25 602.93L1095 602.14L1093.39 601.45L1091.62 600.95L1089.75 600.61L1087.5 600.39L1082.25 600.32L1078 600.69L1076.25 601.05L1074.75 601.5L1073.5 602.03L1072.25 602.77L1071.46 603.45L1070.7 604.45L1070.37 605.2L1070.18 606.2L1070.17 607.45L1070.34 608.45L1070.64 609.2L1071.25 610.09L1072 610.81L1072.95 611.45L1075.3 612.45L1078.25 613.11L1081.5 613.42L1086.01 613.45Z" fill="none" stroke="#898989" stroke-width="0.7" stroke-linejoin="round"/>
<path d="M1087.34 612.7L1090 612.32L1092.25 611.68L1094 610.8L1095.23 609.7L1095.69 608.95L1095.94 608.2L1096.04 607.2L1095.98 606.2L1095.53 604.95L1095 604.25L1094.4 603.7L1093.25 602.98L1092.02 602.45L1089 601.71L1085.25 601.4L1080.5 601.46L1077.25 601.88L1074.52 602.7L1072.75 603.72L1072 604.45L1071.52 605.2L1071.25 605.95L1071.14 606.95L1071.19 607.95L1071.49 608.95L1071.95 609.7L1072.5 610.28L1073.25 610.85L1074.25 611.39L1076.65 612.2L1079.5 612.67L1083.25 612.84L1087.34 612.7Z" fill="none" stroke="#828282" stroke-width="0.7" stroke-linejoin="round"/>
<path d="M1084.39 612.2L1087 612.03L1089.25 611.65L1091.25 610.98L1092.59 610.2L1093.52 609.2L1093.96 607.95L1093.92 606.45L1093.66 605.7L1093.35 605.2L1092.59 604.45L1091.83 603.95L1090.73 603.45L1089.25 603L1086 602.52L1081.75 602.45L1078.25 602.73L1075.5 603.4L1074.28 603.95L1073.51 604.45L1072.96 604.95L1072.44 605.7L1072.12 606.95L1072.14 607.95L1072.33 608.7L1073 609.74L1074.28 610.7L1076.12 611.45L1078.46 611.95L1081 612.18L1084.39 612.2Z" fill="none" stroke="#7c7c7c" stroke-width="0.7" stroke-linejoin="round"/>
<path d="M1085.94 611.45L1088 611.1L1089.5 610.63L1090.74 609.95L1091.5 609.2L1091.93 608.2L1091.94 606.95L1091.55 605.95L1090.84 605.2L1090.04 604.7L1089 604.26L1086.75 603.73L1083.75 603.49L1080 603.55L1077.5 603.87L1075.5 604.47L1074 605.37L1073.49 605.95L1073.23 606.45L1073.07 607.2L1073.08 607.95L1073.38 608.95L1074.3 609.95L1075.73 610.7L1077.75 611.25L1080 611.53L1083.25 611.6L1085.94 611.45Z" fill="none" stroke="#767676" stroke-width="0.7" stroke-linejoin="round"/>
<path d="M1084.01 610.95L1085.75 610.77L1087.22 610.45L1088.5 609.95L1089.25 609.45L1089.69 608.95L1089.97 608.2L1089.95 607.2L1089.62 606.45L1089.13 605.95L1088.3 605.45L1086.5 604.87L1084 604.55L1080.75 604.52L1078.25 604.73L1076.25 605.22L1074.87 605.95L1074.38 606.45L1074.12 606.95L1074 607.95L1074.31 608.95L1075.08 609.7L1076.05 610.2L1077.5 610.63L1079.25 610.89L1081.25 611L1084.01 610.95Z" fill="none" stroke="#707070" stroke-width="0.7" stroke-linejoin="round"/>
<text transform="translate(1079.89,475.5) scale(1,1.005)" style="font-size:16.6px" textLength="35.33" lengthAdjust="spacingAndGlyphs">22.3</text>
<text transform="translate(1145.08,604.1) scale(1,1.005)" style="font-size:16.6px" textLength="35.65" lengthAdjust="spacingAndGlyphs">20.0</text>
<text transform="translate(1166.16,471.3) scale(1,1.005)" style="font-size:16.6px" textLength="45.98" lengthAdjust="spacingAndGlyphs">EtOH</text>
<rect x="1051.42" y="654.7" width="8.45" height="4.2" fill="#000"/>
<rect x="1005.6" y="603.8" width="4.2" height="8.29" fill="#000"/>
<text transform="translate(1020.39,674.5) scale(0.9,1)" class="s" style="font-size:8.3px">-10</text>
<text transform="translate(1031.94,668.7) scale(0.9,1)" class="s" style="font-size:7.6px">3</text>
<text transform="translate(1057.94,674.5) scale(0.9,1)" class="s" style="font-size:8.3px">0</text>
<text transform="translate(1089.61,674.5) scale(0.9,1)" class="s" style="font-size:8.3px">10</text>
<text transform="translate(1097.15,668.9) scale(0.9,1)" class="s" style="font-size:7.6px">3</text>
<text transform="translate(1146.32,674.5) scale(0.9,1)" class="s" style="font-size:8.3px">10</text>
<text transform="translate(1153.92,668.9) scale(0.9,1)" class="s" style="font-size:7.6px">4</text>
<text transform="translate(1194.22,674.5) scale(0.9,1)" class="s" style="font-size:8.3px">10</text>
<text transform="translate(1201.69,668.9) scale(0.9,1)" class="s" style="font-size:7.6px">5</text>
<text transform="translate(988.09,474.61) scale(0.9,1)" class="s" style="font-size:8.3px">10</text>
<text transform="translate(995.66,468.81) scale(0.9,1)" class="s" style="font-size:7.6px">5</text>
<text transform="translate(988.09,522.77) scale(0.9,1)" class="s" style="font-size:8.3px">10</text>
<text transform="translate(995.79,516.97) scale(0.9,1)" class="s" style="font-size:7.6px">4</text>
<text transform="translate(988.09,578.49) scale(0.9,1)" class="s" style="font-size:8.3px">10</text>
<text transform="translate(995.73,572.69) scale(0.9,1)" class="s" style="font-size:7.6px">3</text>
<text transform="translate(992.49,610.96) scale(0.9,1)" class="s" style="font-size:8.3px">0</text>
<text transform="translate(983.57,645.73) scale(0.9,1)" class="s" style="font-size:8.3px">-10</text>
<text transform="translate(996.93,640.43) scale(0.9,1)" class="s" style="font-size:7.6px">3</text>
<ellipse cx="1359" cy="608.5" rx="12" ry="6.5" fill="url(#cg)"/>
<path d="M1369.75 620.2L1376.5 619.93L1382.19 619.2L1384.75 618.66L1387.25 617.97L1389.44 617.2L1391.5 616.28L1393.75 614.99L1395.48 613.7L1397.04 612.2L1398.47 610.45L1399.02 609.7L1399.22 609.2L1399.52 607.45L1399.63 605.45L1399.56 603.45L1399.34 601.7L1398.88 599.95L1398.25 598.45L1396.65 595.95L1393.25 592L1392.1 590.45L1391 588.48L1390.09 586.2L1389 582.32L1385.45 566.95L1382.77 556.45L1380.06 547.2L1377.37 539.45L1375.24 534.45L1373.21 530.7L1372.15 529.2L1371.25 528.2L1370.26 527.45L1369.5 527.2L1368.74 527.45L1367.5 528.45L1366.47 529.7L1365.33 531.45L1364.12 533.7L1362.96 536.2L1360.44 542.7L1358.24 549.45L1355.96 557.45L1353.49 567.2L1350.01 582.2L1349.32 584.7L1348.62 586.7L1347.75 588.47L1346.5 590.21L1345.01 591.7L1340.96 595.2L1339.75 596.52L1338.73 597.95L1337.96 599.45L1337.39 601.2L1337.12 602.95L1337.04 605.2L1337.11 606.7L1337.35 608.2L1337.78 609.7L1338.31 610.95L1339.83 612.7L1341.54 614.2L1343.5 615.52L1345.75 616.69L1348 617.59L1350.5 618.37L1353.25 619.02L1356 619.49L1362.25 620.08L1369.75 620.2ZM1373.95 618.95L1379 618.37L1383.5 617.38L1385.6 616.7L1387.45 615.95L1389 615.17L1390.58 614.2L1392.75 612.43L1394.92 609.95L1395.42 607.45L1395.45 604.2L1395.28 602.7L1395 601.45L1394.56 600.2L1393.94 598.95L1392.55 596.95L1388.66 592.45L1387.56 590.7L1386.77 588.95L1386.09 586.95L1385.42 584.45L1382.42 571.2L1380.45 563.2L1378.66 556.7L1376.93 551.2L1374.88 545.7L1372.96 541.7L1372.04 540.2L1371.03 538.95L1370.1 538.2L1369.5 537.97L1368.9 538.2L1367.97 538.95L1367.14 539.95L1366.18 541.45L1364.23 545.45L1362.24 550.7L1360.56 555.95L1358.81 562.2L1356.75 570.45L1353.68 583.95L1353 586.37L1352.32 588.2L1351.35 589.95L1350 591.48L1348.5 592.63L1343.5 595.9L1342.01 597.2L1340.92 598.45L1339.86 600.2L1339.24 601.95L1338.96 603.7L1338.93 606.2L1339.14 607.95L1339.57 609.45L1340.27 610.95L1341.25 612.39L1342.76 613.7L1344.5 614.87L1346.25 615.79L1348.43 616.7L1350.75 617.44L1353.25 618.04L1356 618.52L1359 618.86L1365.75 619.15L1370.25 619.12L1373.95 618.95ZM1372.42 618.2L1377 617.69L1381.25 616.78L1384.75 615.55L1387.75 613.95L1389.71 612.45L1391.35 610.7L1391.81 609.45L1392.15 607.95L1392.27 604.95L1392.13 603.45L1391.87 602.2L1391.41 600.95L1390.75 599.7L1389.19 597.7L1384.9 593.45L1383.84 591.95L1382.97 590.2L1382.34 588.45L1381.66 585.95L1379.12 574.45L1377.56 567.95L1375.06 559.2L1373.52 554.95L1372.14 551.95L1370.84 549.95L1370.03 549.2L1369.5 548.97L1368.97 549.2L1368.39 549.7L1367 551.7L1365.58 554.7L1364.02 558.95L1362.58 563.7L1361.12 569.2L1357.3 585.95L1356.7 587.95L1356 589.64L1354.96 591.2L1353.53 592.45L1352 593.31L1348 595.09L1346 596.13L1344.25 597.3L1342.75 598.65L1341.57 600.2L1340.75 601.95L1340.33 603.95L1340.28 606.2L1340.47 607.95L1340.9 609.45L1341.67 610.95L1342.61 612.2L1343.88 613.45L1344.92 614.2L1346.76 615.2L1348.75 616.04L1351 616.77L1353.25 617.32L1355.75 617.76L1358.5 618.09L1364.75 618.38L1372.42 618.2ZM1372.05 617.45L1376.25 616.91L1380 616.02L1383.25 614.79L1386 613.2L1387.83 611.7L1388.5 611.01L1388.65 610.7L1389.11 609.45L1389.4 608.2L1389.53 606.95L1389.52 605.2L1389.36 603.7L1389.04 602.45L1388.52 601.2L1387.93 600.2L1386.49 598.45L1382.31 594.45L1381.25 593L1380.44 591.45L1379.33 588.2L1376.09 574.95L1373.84 567.45L1372.68 564.45L1371.59 562.2L1370.55 560.7L1369.99 560.2L1369.5 559.97L1368.69 560.45L1367.56 561.95L1366.42 564.2L1365.34 566.95L1364.19 570.45L1363.04 574.45L1359.76 587.7L1359.08 589.7L1358.34 591.2L1357.34 592.45L1356 593.45L1354.4 594.2L1350.16 595.7L1348 596.61L1346.01 597.7L1344.36 598.95L1343 600.45L1342 602.31L1341.54 604.2L1341.48 606.7L1341.67 608.2L1342.05 609.45L1342.68 610.7L1343.62 611.95L1344.94 613.2L1346.5 614.3L1349.5 615.63L1351.75 616.32L1354 616.82L1359 617.48L1365.75 617.68L1372.05 617.45ZM1368.9 616.95L1373 616.59L1376.52 615.95L1379.75 614.98L1382.53 613.7L1384.43 612.45L1385.82 611.2L1386.38 609.95L1386.68 608.95L1386.94 606.7L1386.88 604.95L1386.68 603.7L1386.27 602.45L1385.6 601.2L1384.86 600.2L1383.93 599.2L1379.7 595.45L1378.69 594.2L1377.82 592.7L1376.68 589.7L1374.12 580.45L1372.63 575.95L1371.8 573.95L1371 572.45L1370.24 571.45L1369.5 570.97L1368.76 571.45L1368.16 572.2L1367.45 573.45L1366.66 575.2L1365.02 579.95L1362.34 589.45L1361.55 591.45L1360.75 592.76L1359.75 593.77L1358.25 594.64L1356.75 595.18L1352.25 596.38L1350 597.12L1347.75 598.12L1346.02 599.2L1344.39 600.7L1343.38 602.2L1342.76 603.95L1342.57 605.95L1342.66 607.7L1342.93 608.95L1343.46 610.2L1344.11 611.2L1345 612.2L1346.21 613.2L1347.75 614.16L1349.25 614.89L1353 616.02L1357.5 616.74L1362.5 617.02L1368.9 616.95ZM1370 616.2L1373.5 615.73L1376.72 614.95L1379.36 613.95L1381.62 612.7L1383.25 611.48L1383.67 610.7L1384.34 608.7L1384.51 606.7L1384.44 605.2L1384.2 603.95L1383.72 602.7L1383.14 601.7L1381.6 599.95L1377.48 596.45L1376.5 595.32L1375.75 594.16L1374.64 591.7L1372.57 585.45L1371.51 582.7L1370.39 580.7L1369.92 580.2L1369.5 579.97L1369.08 580.2L1368.61 580.7L1367.61 582.45L1366.6 584.95L1364.39 591.45L1363.53 593.2L1362.75 594.25L1361.75 595.09L1360.25 595.8L1351.75 597.76L1349.25 598.69L1347.36 599.7L1345.53 601.2L1344.44 602.7L1343.79 604.45L1343.62 606.7L1343.72 607.95L1344.02 609.2L1344.62 610.45L1345.36 611.45L1346.41 612.45L1347.75 613.39L1349.25 614.17L1351 614.89L1354.5 615.76L1359 616.29L1365 616.42L1370 616.2Z" fill="none" stroke="#a0a0a0" stroke-width="0.7" stroke-linejoin="round"/>
<path d="M1367.01 615.7L1371.5 615.22L1373.5 614.8L1375.25 614.29L1376.77 613.7L1378.2 612.95L1379.28 612.2L1380.33 611.2L1381.04 610.2L1381.58 608.95L1381.81 607.7L1381.83 605.95L1381.65 604.7L1381.18 603.45L1380.53 602.45L1379.58 601.45L1378.2 600.45L1376.5 599.59L1374.5 598.87L1372 598.27L1369.5 597.9L1366.75 597.69L1363 597.62L1359.5 597.7L1357 597.9L1354.5 598.27L1352.5 598.72L1350.5 599.38L1348.75 600.18L1347.5 600.98L1346.39 601.95L1345.45 603.2L1344.91 604.45L1344.67 605.7L1344.65 607.45L1344.91 608.95L1345.44 610.2L1346.16 611.2L1347.2 612.2L1348.5 613.08L1350 613.82L1351.75 614.46L1353.75 614.98L1356 615.38L1360.75 615.75L1367.01 615.7Z" fill="none" stroke="#9b9b9b" stroke-width="0.7" stroke-linejoin="round"/>
<path d="M1363.45 615.2L1368 614.98L1371.75 614.37L1374.75 613.4L1376.14 612.7L1377.25 611.94L1378.05 611.2L1378.81 610.2L1379.27 609.2L1379.53 607.95L1379.57 606.45L1379.4 605.2L1378.92 603.95L1378.23 602.95L1377.17 601.95L1375.75 601.04L1374 600.26L1372 599.65L1369.75 599.2L1367.25 598.91L1361 598.76L1356 599.12L1353.75 599.52L1351.75 600.06L1350.11 600.7L1348.72 601.45L1347.43 602.45L1346.58 603.45L1346.03 604.45L1345.69 605.7L1345.61 607.2L1345.72 608.45L1346.01 609.45L1346.54 610.45L1347.38 611.45L1348.28 612.2L1349.5 612.95L1351 613.63L1354.25 614.54L1358.25 615.07L1363.45 615.2Z" fill="none" stroke="#959595" stroke-width="0.7" stroke-linejoin="round"/>
<path d="M1366.74 614.45L1370 613.95L1372.75 613.11L1374.93 611.95L1375.83 611.2L1376.46 610.45L1377.01 609.45L1377.28 608.45L1377.36 607.2L1377.27 605.95L1376.97 604.95L1376.4 603.95L1375.74 603.2L1374.8 602.45L1373.49 601.7L1372 601.1L1370.25 600.6L1368.25 600.22L1363.75 599.87L1357.75 599.99L1354 600.53L1352.25 600.99L1350.75 601.55L1349.51 602.2L1348.46 602.95L1347.72 603.7L1347.07 604.7L1346.71 605.7L1346.56 606.95L1346.61 608.2L1346.92 609.45L1347.46 610.45L1348.09 611.2L1349 611.96L1350.25 612.7L1351.75 613.33L1353.25 613.79L1357 614.43L1361.75 614.64L1366.74 614.45Z" fill="none" stroke="#8f8f8f" stroke-width="0.7" stroke-linejoin="round"/>
<path d="M1365.33 613.95L1368.5 613.49L1371 612.75L1373.01 611.7L1374.33 610.45L1374.78 609.7L1375.11 608.7L1375.21 607.7L1375.13 606.45L1374.94 605.7L1374.5 604.81L1374 604.17L1373.2 603.45L1372 602.71L1370.75 602.16L1369.25 601.7L1367.25 601.29L1363.25 600.95L1358 601.01L1354.5 601.46L1353 601.82L1351.5 602.34L1350.24 602.95L1349.25 603.64L1348.44 604.45L1347.96 605.2L1347.6 606.2L1347.49 607.2L1347.54 608.45L1347.8 609.45L1348.18 610.2L1348.79 610.95L1349.68 611.7L1350.75 612.33L1353.25 613.26L1356.5 613.86L1360.5 614.09L1365.33 613.95Z" fill="none" stroke="#898989" stroke-width="0.7" stroke-linejoin="round"/>
<path d="M1364.04 613.45L1366.75 613.1L1369.15 612.45L1371 611.54L1372.24 610.45L1372.72 609.7L1372.98 608.95L1373.08 607.2L1372.95 606.45L1372.65 605.7L1371.63 604.45L1370.54 603.7L1369.48 603.2L1368 602.71L1366.5 602.38L1362.75 602L1358 602.04L1354.75 602.42L1352 603.2L1350.95 603.7L1350 604.33L1349.35 604.95L1348.83 605.7L1348.53 606.45L1348.39 607.45L1348.42 608.45L1348.66 609.45L1349.06 610.2L1349.5 610.74L1350.25 611.38L1351.18 611.95L1353.5 612.82L1356.25 613.33L1359.75 613.55L1364.04 613.45Z" fill="none" stroke="#828282" stroke-width="0.7" stroke-linejoin="round"/>
<path d="M1362.87 612.95L1365.25 612.67L1367.25 612.18L1368.92 611.45L1370.18 610.45L1370.55 609.95L1370.88 609.2L1371.02 607.7L1370.75 606.45L1370.29 605.7L1369.8 605.2L1369 604.63L1368 604.13L1366.75 603.69L1365.25 603.36L1362.25 603.04L1358 603.04L1355 603.36L1352.75 603.95L1351.61 604.45L1350.81 604.95L1350.24 605.45L1349.68 606.2L1349.38 606.95L1349.28 607.7L1349.31 608.7L1349.5 609.45L1349.92 610.2L1350.36 610.7L1351.75 611.65L1353.75 612.38L1356.25 612.84L1359.25 613.02L1362.87 612.95Z" fill="none" stroke="#7c7c7c" stroke-width="0.7" stroke-linejoin="round"/>
<path d="M1361.84 612.45L1364 612.2L1365.75 611.78L1367.12 611.2L1368.14 610.45L1368.81 609.45L1369 608.2L1368.76 606.95L1368.02 605.95L1367.35 605.45L1366.34 604.95L1364 604.31L1361.25 604.04L1357.5 604.05L1355 604.34L1352.8 604.95L1351.25 605.84L1350.67 606.45L1350.38 606.95L1350.17 607.7L1350.15 608.45L1350.44 609.7L1351.28 610.7L1352.5 611.44L1354.25 612.02L1356.25 612.36L1358.75 612.5L1361.84 612.45Z" fill="none" stroke="#767676" stroke-width="0.7" stroke-linejoin="round"/>
<path d="M1360.95 611.95L1362.75 611.75L1364.25 611.4L1365.5 610.87L1366.38 610.2L1366.85 609.45L1367 608.45L1366.81 607.45L1366.28 606.7L1365 605.88L1363 605.29L1360.5 605.03L1357.25 605.04L1355 605.29L1353.25 605.78L1352.01 606.45L1351.49 606.95L1351.19 607.45L1351 608.7L1351.26 609.7L1351.89 610.45L1353 611.12L1354.5 611.6L1356.25 611.88L1358.25 612L1360.95 611.95Z" fill="none" stroke="#707070" stroke-width="0.7" stroke-linejoin="round"/>
<text transform="translate(1357.59,474.6) scale(1,1.005)" style="font-size:16.6px" textLength="35.34" lengthAdjust="spacingAndGlyphs">23.7</text>
<text transform="translate(1425.62,605.4) scale(1,1.005)" style="font-size:16.6px" textLength="35.31" lengthAdjust="spacingAndGlyphs">17.7</text>
<text transform="translate(1460.87,468.4) scale(1,1.005)" style="font-size:16.6px" textLength="28.67" lengthAdjust="spacingAndGlyphs">Dic</text>
<rect x="1329.74" y="654.7" width="8.46" height="4.2" fill="#000"/>
<rect x="1283.9" y="603.8" width="4.2" height="8.29" fill="#000"/>
<text transform="translate(1298.69,674.5) scale(0.9,1)" class="s" style="font-size:8.3px">-10</text>
<text transform="translate(1310.25,668.7) scale(0.9,1)" class="s" style="font-size:7.6px">3</text>
<text transform="translate(1336.26,674.5) scale(0.9,1)" class="s" style="font-size:8.3px">0</text>
<text transform="translate(1367.95,674.5) scale(0.9,1)" class="s" style="font-size:8.3px">10</text>
<text transform="translate(1375.49,668.9) scale(0.9,1)" class="s" style="font-size:7.6px">3</text>
<text transform="translate(1424.68,674.5) scale(0.9,1)" class="s" style="font-size:8.3px">10</text>
<text transform="translate(1432.29,668.9) scale(0.9,1)" class="s" style="font-size:7.6px">4</text>
<text transform="translate(1472.61,674.5) scale(0.9,1)" class="s" style="font-size:8.3px">10</text>
<text transform="translate(1480.08,668.9) scale(0.9,1)" class="s" style="font-size:7.6px">5</text>
<text transform="translate(1266.39,474.61) scale(0.9,1)" class="s" style="font-size:8.3px">10</text>
<text transform="translate(1273.96,468.81) scale(0.9,1)" class="s" style="font-size:7.6px">5</text>
<text transform="translate(1266.39,522.77) scale(0.9,1)" class="s" style="font-size:8.3px">10</text>
<text transform="translate(1274.09,516.97) scale(0.9,1)" class="s" style="font-size:7.6px">4</text>
<text transform="translate(1266.39,578.49) scale(0.9,1)" class="s" style="font-size:8.3px">10</text>
<text transform="translate(1274.03,572.69) scale(0.9,1)" class="s" style="font-size:7.6px">3</text>
<text transform="translate(1270.79,610.96) scale(0.9,1)" class="s" style="font-size:8.3px">0</text>
<text transform="translate(1261.87,645.73) scale(0.9,1)" class="s" style="font-size:8.3px">-10</text>
<text transform="translate(1275.23,640.43) scale(0.9,1)" class="s" style="font-size:7.6px">3</text>
<ellipse cx="1629.5" cy="608.7" rx="10" ry="5.5" fill="url(#cg)"/>
<path d="M1633.75 618.4L1637.5 618.17L1640.75 617.73L1643.75 617.05L1646.25 616.19L1648.4 615.15L1650.28 613.9L1653.88 610.65L1654.03 610.15L1653.72 606.4L1653.4 604.9L1652.97 603.65L1651.95 601.65L1648.75 597.04L1647.25 594.33L1646 591.39L1642.53 582.15L1640.32 577.15L1638.56 573.9L1637.01 571.65L1635.56 570.15L1634.81 569.65L1634 569.4L1632.78 569.9L1631.41 571.15L1630.08 572.9L1628.58 575.4L1627.2 578.15L1625.88 581.15L1621.83 591.65L1620.41 594.4L1619.48 595.65L1618.25 596.84L1613.25 600.21L1612.09 601.15L1611.13 602.15L1610.25 603.4L1609.68 604.65L1609.32 606.15L1609.21 607.9L1609.28 609.4L1609.52 610.65L1609.97 611.9L1610.63 613.15L1612.75 614.76L1615.25 616.06L1618.75 617.24L1623 618.03L1627.75 618.39L1633.75 618.4ZM1632.17 616.9L1635.75 616.72L1639 616.28L1641.75 615.61L1644.25 614.65L1646.07 613.65L1647.77 612.4L1648.37 610.9L1648.66 609.15L1648.65 607.4L1648.43 605.9L1647.99 604.65L1647.25 603.4L1645.58 601.65L1642 598.93L1640.5 597.52L1639 595.52L1635.94 590.4L1635.08 589.4L1634 588.7L1633.2 589.15L1632.25 590.15L1629 595.36L1627.5 597.05L1626.5 597.76L1625.5 598.27L1619 600.37L1617.25 601.15L1615.99 601.9L1614.76 602.9L1613.74 604.15L1613.06 605.65L1612.81 607.15L1612.88 609.4L1613.13 610.4L1613.56 611.4L1614.24 612.4L1614.94 613.15L1616 614.02L1617.25 614.83L1620.25 615.86L1623.5 616.51L1627.25 616.85L1632.17 616.9ZM1634.54 615.9L1638.25 615.37L1640 614.91L1641.38 614.4L1642.75 613.72L1643.75 613.05L1644.72 612.15L1645.29 611.4L1645.79 610.4L1646.09 609.15L1646.14 607.4L1645.96 606.15L1645.59 605.15L1644.97 604.15L1644 603.16L1643 602.44L1641.5 601.66L1640 601.1L1638.25 600.64L1636.25 600.29L1631.75 599.98L1626 600.12L1622.25 600.69L1619.25 601.65L1617.8 602.4L1616.75 603.15L1615.98 603.9L1615.27 604.9L1614.85 605.9L1614.61 607.15L1614.61 608.9L1614.86 610.15L1615.29 611.15L1616.01 612.15L1616.79 612.9L1618 613.73L1619.35 614.4L1620.75 614.91L1622.5 615.37L1624.5 615.72L1629 616.03L1634.54 615.9ZM1635.1 615.15L1638.25 614.55L1640.75 613.62L1641.97 612.9L1642.75 612.26L1643.5 611.41L1643.94 610.65L1644.29 609.65L1644.43 608.4L1644.36 606.9L1644.1 605.9L1643.59 604.9L1642.99 604.15L1642.13 603.4L1640.93 602.65L1639.75 602.12L1638.25 601.63L1634.75 600.99L1630 600.79L1625.5 601.01L1622.25 601.61L1619.75 602.53L1618.66 603.15L1617.75 603.86L1617.03 604.65L1616.56 605.4L1616.18 606.4L1616.02 607.4L1616.03 608.9L1616.29 610.15L1616.77 611.15L1617.5 612.07L1618.48 612.9L1619.5 613.52L1620.75 614.08L1622.25 614.57L1625.75 615.2L1630.75 615.39L1635.1 615.15ZM1634.09 614.65L1637 614.15L1639.5 613.26L1641.21 612.15L1641.93 611.4L1642.42 610.65L1642.72 609.9L1642.91 608.9L1642.91 607.4L1642.71 606.4L1642.26 605.4L1641.7 604.65L1640.88 603.9L1640 603.33L1638.75 602.73L1637.5 602.31L1634.5 601.72L1630.5 601.5L1626 601.68L1623.25 602.16L1620.75 603.03L1619 604.15L1618.27 604.9L1617.78 605.65L1617.4 606.65L1617.26 607.65L1617.28 608.9L1617.5 610.01L1617.91 610.9L1618.46 611.65L1619.28 612.4L1620.25 613.03L1621.5 613.62L1622.75 614.03L1625.75 614.61L1629.75 614.82L1634.09 614.65Z" fill="none" stroke="#a0a0a0" stroke-width="0.7" stroke-linejoin="round"/>
<path d="M1633.61 614.15L1636.25 613.69L1638.5 612.87L1639.5 612.28L1640.25 611.66L1641.16 610.4L1641.43 609.65L1641.57 608.65L1641.54 607.4L1641.31 606.4L1640.94 605.65L1640.35 604.9L1639.5 604.18L1638.75 603.72L1636.5 602.84L1633.75 602.32L1630 602.15L1626.25 602.32L1623.75 602.76L1621.5 603.56L1619.86 604.65L1618.87 605.9L1618.56 606.65L1618.39 607.65L1618.4 608.9L1618.59 609.9L1618.92 610.65L1619.46 611.4L1620.25 612.13L1621.04 612.65L1623.25 613.56L1626 614.11L1629.5 614.31L1633.61 614.15Z" fill="none" stroke="#989898" stroke-width="0.7" stroke-linejoin="round"/>
<path d="M1633.5 613.65L1635.95 613.15L1637.79 612.4L1639.15 611.4L1640.01 610.15L1640.32 608.65L1640.3 607.65L1640.09 606.65L1639.73 605.9L1639.25 605.28L1638.53 604.65L1637.75 604.16L1635.75 603.37L1633.25 602.9L1630 602.74L1626.5 602.9L1624.25 603.3L1622.25 604.02L1620.89 604.9L1620.38 605.4L1619.87 606.15L1619.57 606.9L1619.42 607.9L1619.43 608.9L1619.64 609.9L1619.99 610.65L1620.5 611.31L1621.95 612.4L1624 613.21L1626.5 613.68L1630.25 613.84L1633.5 613.65Z" fill="none" stroke="#909090" stroke-width="0.7" stroke-linejoin="round"/>
<path d="M1633.54 613.15L1635.59 612.65L1637.19 611.9L1638.35 610.9L1638.92 609.9L1639.11 609.15L1639.16 608.15L1638.87 606.65L1638.5 605.99L1638 605.42L1636.75 604.54L1635 603.86L1632.75 603.43L1629.75 603.3L1626.75 603.44L1624.75 603.8L1623 604.43L1621.56 605.4L1620.79 606.4L1620.5 607.15L1620.39 607.9L1620.4 608.9L1620.62 609.9L1621 610.64L1621.41 611.15L1622.78 612.15L1624.75 612.89L1627.25 613.3L1630.75 613.39L1633.54 613.15Z" fill="none" stroke="#888888" stroke-width="0.7" stroke-linejoin="round"/>
<path d="M1631.86 612.9L1633.75 612.62L1635.5 612.05L1636.75 611.3L1637.56 610.4L1638.01 609.15L1637.96 607.4L1637.38 606.15L1636.26 605.15L1634.75 604.46L1632.75 604L1630.5 603.83L1627.5 603.9L1625.5 604.2L1624 604.68L1622.73 605.4L1621.8 606.4L1621.34 607.65L1621.39 609.4L1621.97 610.65L1623.09 611.65L1624.5 612.31L1626.5 612.79L1628.75 612.97L1631.86 612.9Z" fill="none" stroke="#808080" stroke-width="0.7" stroke-linejoin="round"/>
<path d="M1632.44 612.4L1634 612.03L1635.25 611.48L1636.25 610.68L1636.75 609.9L1637 608.65L1636.81 607.15L1636.18 606.15L1635.22 605.4L1633.75 604.79L1632 604.44L1630 604.32L1627.5 604.41L1625.75 604.7L1624.44 605.15L1623.25 605.9L1622.61 606.65L1622.19 607.9L1622.18 608.9L1622.33 609.65L1622.9 610.65L1624 611.53L1625.5 612.14L1627.5 612.5L1630.25 612.57L1632.44 612.4Z" fill="none" stroke="#787878" stroke-width="0.7" stroke-linejoin="round"/>
<path d="M1631.05 612.15L1632.71 611.9L1634 611.46L1634.92 610.9L1635.59 610.15L1635.96 609.15L1635.92 607.65L1635.46 606.65L1634.75 605.97L1633.68 605.4L1632.25 605L1630.5 604.82L1628.25 604.83L1626.75 605L1625.32 605.4L1624.35 605.9L1623.54 606.65L1623.08 607.65L1623.04 609.15L1623.41 610.15L1624.25 611.03L1625.46 611.65L1627 612.04L1628.75 612.19L1631.05 612.15Z" fill="none" stroke="#707070" stroke-width="0.7" stroke-linejoin="round"/>
<text transform="translate(1624.86,476.2) scale(1,1.005)" style="font-size:16.6px" textLength="34.62" lengthAdjust="spacingAndGlyphs">9.18</text>
<text transform="translate(1700.96,604.7) scale(1,1.005)" style="font-size:16.6px" textLength="34.41" lengthAdjust="spacingAndGlyphs">1.15</text>
<text transform="translate(1733.86,469) scale(1,1.005)" style="font-size:16.6px" textLength="35.59" lengthAdjust="spacingAndGlyphs">AEA</text>
<rect x="1606.21" y="654.7" width="8.53" height="4.2" fill="#000"/>
<rect x="1560" y="603.8" width="4.2" height="8.29" fill="#000"/>
<text transform="translate(1574.9,674.5) scale(0.9,1)" class="s" style="font-size:8.3px">-10</text>
<text transform="translate(1586.45,668.7) scale(0.9,1)" class="s" style="font-size:7.6px">3</text>
<text transform="translate(1612.76,674.5) scale(0.9,1)" class="s" style="font-size:8.3px">0</text>
<text transform="translate(1644.75,674.5) scale(0.9,1)" class="s" style="font-size:8.3px">10</text>
<text transform="translate(1652.29,668.9) scale(0.9,1)" class="s" style="font-size:7.6px">3</text>
<text transform="translate(1701.98,674.5) scale(0.9,1)" class="s" style="font-size:8.3px">10</text>
<text transform="translate(1709.59,668.9) scale(0.9,1)" class="s" style="font-size:7.6px">4</text>
<text transform="translate(1750.33,674.5) scale(0.9,1)" class="s" style="font-size:8.3px">10</text>
<text transform="translate(1757.8,668.9) scale(0.9,1)" class="s" style="font-size:7.6px">5</text>
<text transform="translate(1542.49,474.61) scale(0.9,1)" class="s" style="font-size:8.3px">10</text>
<text transform="translate(1550.06,468.81) scale(0.9,1)" class="s" style="font-size:7.6px">5</text>
<text transform="translate(1542.49,522.77) scale(0.9,1)" class="s" style="font-size:8.3px">10</text>
<text transform="translate(1550.19,516.97) scale(0.9,1)" class="s" style="font-size:7.6px">4</text>
<text transform="translate(1542.49,578.49) scale(0.9,1)" class="s" style="font-size:8.3px">10</text>
<text transform="translate(1550.13,572.69) scale(0.9,1)" class="s" style="font-size:7.6px">3</text>
<text transform="translate(1546.89,610.96) scale(0.9,1)" class="s" style="font-size:8.3px">0</text>
<text transform="translate(1551.63,643.63) scale(0.9,1)" class="s" style="font-size:7.6px">3</text>
<text transform="translate(1576.37,649.2) scale(0.9,1)" class="s" style="font-size:8.3px">-10</text>
<path d="M781.49 660.5v3M732.4 609.21h-3M784.85 660.5v3M732.4 605.8h-3M788.22 660.5v3M732.4 602.39h-3M791.59 660.5v3M732.4 598.98h-3M798.32 660.5v3M732.4 592.17h-3M801.69 660.5v3M732.4 588.76h-3M805.06 660.5v3M732.4 585.35h-3M808.43 660.5v3M732.4 581.94h-3M774.74 660.5v3M732.4 616h-3M771.37 660.5v3M732.4 619.39h-3M768 660.5v3M732.4 622.78h-3M764.62 660.5v3M732.4 626.17h-3M757.88 660.5v3M732.4 632.94h-3M754.5 660.5v3M732.4 636.33h-3M751.13 660.5v3M732.4 639.72h-3M747.75 660.5v3M732.4 643.1h-3M828.81 660.5v3M732.4 561.35h-3M838.77 660.5v3M732.4 551.3h-3M845.83 660.5v3M732.4 544.16h-3M851.31 660.5v3M732.4 538.63h-3M855.79 660.5v3M732.4 534.11h-3M859.57 660.5v3M732.4 530.29h-3M862.85 660.5v3M732.4 526.98h-3M865.74 660.5v3M732.4 524.06h-3M882.71 660.5v3M732.4 506.59h-3M891.12 660.5v3M732.4 497.9h-3M897.08 660.5v3M732.4 491.74h-3M901.71 660.5v3M732.4 486.96h-3M905.49 660.5v3M732.4 483.05h-3M908.69 660.5v3M732.4 479.74h-3M911.46 660.5v3M732.4 476.88h-3M913.9 660.5v3M732.4 474.36h-3M930.47 660.5v3M732.4 457.25h-3M794.96 660.5v4.3M732.4 595.57h-4.3M761.25 660.5v4.3M732.4 629.55h-4.3M773.9 660.5v6M778.12 660.5v6M782.33 660.5v6M732.4 616.85h-6M732.4 612.62h-6M732.4 608.36h-6M1059.03 654.7v3M1009.8 604.63h-3M1062.41 654.7v3M1009.8 601.31h-3M1065.79 654.7v3M1009.8 597.98h-3M1069.16 654.7v3M1009.8 594.65h-3M1075.92 654.7v3M1009.8 588h-3M1079.3 654.7v3M1009.8 584.67h-3M1082.67 654.7v3M1009.8 581.35h-3M1086.05 654.7v3M1009.8 578.02h-3M1052.27 654.7v3M1009.8 611.27h-3M1048.89 654.7v3M1009.8 614.57h-3M1045.5 654.7v3M1009.8 617.88h-3M1042.12 654.7v3M1009.8 621.19h-3M1035.35 654.7v3M1009.8 627.8h-3M1031.97 654.7v3M1009.8 631.11h-3M1028.58 654.7v3M1009.8 634.41h-3M1025.2 654.7v3M1009.8 637.72h-3M1106.5 654.7v3M1009.8 557.92h-3M1116.48 654.7v3M1009.8 548.11h-3M1123.57 654.7v3M1009.8 541.15h-3M1129.06 654.7v3M1009.8 535.75h-3M1133.55 654.7v3M1009.8 531.33h-3M1137.35 654.7v3M1009.8 527.6h-3M1140.64 654.7v3M1009.8 524.37h-3M1143.54 654.7v3M1009.8 521.52h-3M1160.55 654.7v3M1009.8 504.47h-3M1168.98 654.7v3M1009.8 495.99h-3M1174.97 654.7v3M1009.8 489.97h-3M1179.61 654.7v3M1009.8 485.31h-3M1183.4 654.7v3M1009.8 481.49h-3M1186.61 654.7v3M1009.8 478.27h-3M1189.39 654.7v3M1009.8 475.47h-3M1191.84 654.7v3M1009.8 473.01h-3M1208.45 654.7v3M1009.8 456.31h-3M1072.54 654.7v4.3M1009.8 591.33h-4.3M1038.73 654.7v4.3M1009.8 624.49h-4.3M1051.42 654.7v6M1055.65 654.7v6M1059.87 654.7v6M1009.8 612.09h-6M1009.8 607.96h-6M1009.8 603.8h-6M1337.35 654.7v3M1288.1 604.63h-3M1340.73 654.7v3M1288.1 601.31h-3M1344.11 654.7v3M1288.1 597.98h-3M1347.49 654.7v3M1288.1 594.65h-3M1354.25 654.7v3M1288.1 588h-3M1357.63 654.7v3M1288.1 584.67h-3M1361.01 654.7v3M1288.1 581.35h-3M1364.39 654.7v3M1288.1 578.02h-3M1330.59 654.7v3M1288.1 611.27h-3M1327.2 654.7v3M1288.1 614.57h-3M1323.82 654.7v3M1288.1 617.88h-3M1320.43 654.7v3M1288.1 621.19h-3M1313.66 654.7v3M1288.1 627.8h-3M1310.28 654.7v3M1288.1 631.11h-3M1306.89 654.7v3M1288.1 634.41h-3M1303.51 654.7v3M1288.1 637.72h-3M1384.84 654.7v3M1288.1 557.92h-3M1394.83 654.7v3M1288.1 548.11h-3M1401.92 654.7v3M1288.1 541.15h-3M1407.42 654.7v3M1288.1 535.75h-3M1411.91 654.7v3M1288.1 531.33h-3M1415.71 654.7v3M1288.1 527.6h-3M1419 654.7v3M1288.1 524.37h-3M1421.9 654.7v3M1288.1 521.52h-3M1438.92 654.7v3M1288.1 504.47h-3M1447.36 654.7v3M1288.1 495.99h-3M1453.35 654.7v3M1288.1 489.97h-3M1457.99 654.7v3M1288.1 485.31h-3M1461.79 654.7v3M1288.1 481.49h-3M1465 654.7v3M1288.1 478.27h-3M1467.78 654.7v3M1288.1 475.47h-3M1470.23 654.7v3M1288.1 473.01h-3M1486.85 654.7v3M1288.1 456.31h-3M1350.87 654.7v4.3M1288.1 591.33h-4.3M1317.05 654.7v4.3M1288.1 624.49h-4.3M1329.74 654.7v6M1333.98 654.7v6M1338.2 654.7v6M1288.1 612.09h-6M1288.1 607.96h-6M1288.1 603.8h-6M1613.89 654.7v3M1564.2 604.63h-3M1617.3 654.7v3M1564.2 601.31h-3M1620.71 654.7v3M1564.2 597.98h-3M1624.11 654.7v3M1564.2 594.65h-3M1630.93 654.7v3M1564.2 588h-3M1634.34 654.7v3M1564.2 584.67h-3M1637.75 654.7v3M1564.2 581.35h-3M1641.16 654.7v3M1564.2 578.02h-3M1607.06 654.7v3M1564.2 611.27h-3M1603.65 654.7v3M1564.2 614.57h-3M1600.23 654.7v3M1564.2 617.88h-3M1596.82 654.7v3M1564.2 621.19h-3M1589.99 654.7v3M1564.2 627.8h-3M1586.57 654.7v3M1564.2 631.11h-3M1583.16 654.7v3M1564.2 634.41h-3M1579.74 654.7v3M1564.2 637.72h-3M1661.79 654.7v3M1564.2 557.92h-3M1671.87 654.7v3M1564.2 548.11h-3M1679.02 654.7v3M1564.2 541.15h-3M1684.57 654.7v3M1564.2 535.75h-3M1689.1 654.7v3M1564.2 531.33h-3M1692.93 654.7v3M1564.2 527.6h-3M1696.25 654.7v3M1564.2 524.37h-3M1699.18 654.7v3M1564.2 521.52h-3M1716.35 654.7v3M1564.2 504.47h-3M1724.86 654.7v3M1564.2 495.99h-3M1730.9 654.7v3M1564.2 489.97h-3M1735.59 654.7v3M1564.2 485.31h-3M1739.41 654.7v3M1564.2 481.49h-3M1742.65 654.7v3M1564.2 478.27h-3M1745.45 654.7v3M1564.2 475.47h-3M1747.93 654.7v3M1564.2 473.01h-3M1764.69 654.7v3M1564.2 456.31h-3M1627.52 654.7v4.3M1564.2 591.33h-4.3M1593.4 654.7v4.3M1564.2 624.49h-4.3M1606.21 654.7v6M1610.48 654.7v6M1614.74 654.7v6M1564.2 612.09h-6M1564.2 607.96h-6M1564.2 603.8h-6" stroke="#000" stroke-width="1.1" fill="none"/>
<path d="M704.8 496.5V635.2M754.4 696.7H1750.3M732.4 451.4H936.5V660.5H732.4ZM771.5 459.7H838.4V591.5H771.5ZM813.7 591.5H909.2V641.8H813.7ZM744.38 660.5v6.4M811.79 660.5v6.4M868.33 660.5v6.4M916.09 660.5v6.4M732.4 472.1h-6.4M732.4 521.45h-6.4M732.4 578.53h-6.4M732.4 646.49h-6.4M1009.8 450.6H1214.5V654.7H1009.8ZM1049.1 456.8H1117.9V587.9H1049.1ZM1090.5 587.9H1181.6V636.4H1090.5ZM1021.82 654.7v6.4M1089.43 654.7v6.4M1146.13 654.7v6.4M1194.03 654.7v6.4M1009.8 470.81h-6.4M1009.8 518.97h-6.4M1009.8 574.69h-6.4M1009.8 641.03h-6.4M1288.1 450.6H1492.9V654.7H1288.1ZM1327.5 457.8H1393.7V587.9H1327.5ZM1368.9 587.9H1460.9V636.4H1368.9ZM1300.12 654.7v6.4M1367.77 654.7v6.4M1424.5 654.7v6.4M1472.42 654.7v6.4M1288.1 470.81h-6.4M1288.1 518.97h-6.4M1288.1 574.69h-6.4M1288.1 641.03h-6.4M1564.2 450.6H1770.8V654.7H1564.2ZM1604.1 460H1660.9V587.6H1604.1ZM1646.4 587.6H1736.8V636.1H1646.4ZM1576.33 654.7v6.4M1644.57 654.7v6.4M1701.8 654.7v6.4M1750.14 654.7v6.4M1564.2 470.81h-6.4M1564.2 518.97h-6.4M1564.2 574.69h-6.4M1564.2 641.03h-6.4" stroke="#000" stroke-width="2.2" fill="none"/>
</svg>
</body></html>
